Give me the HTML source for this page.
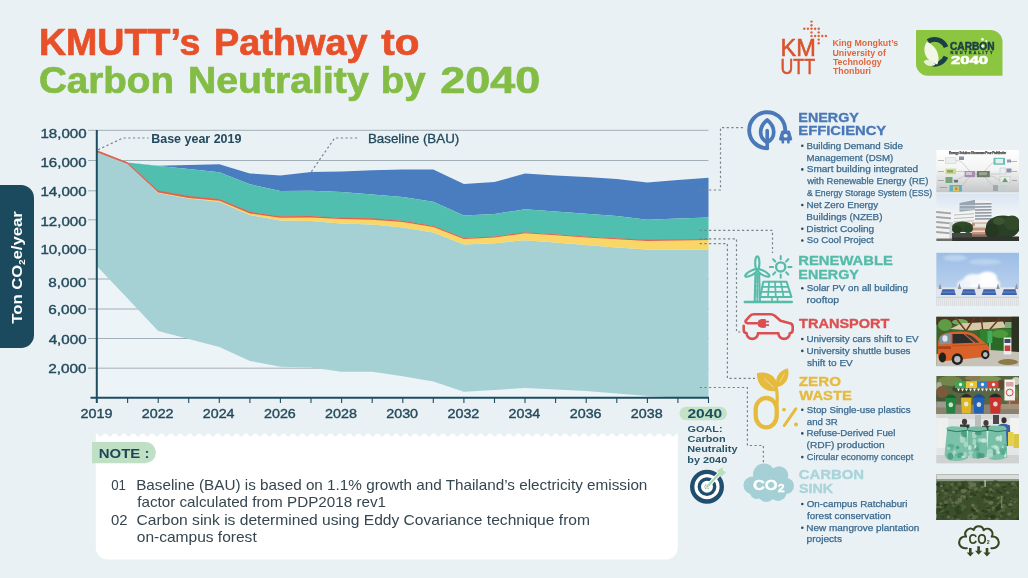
<!DOCTYPE html>
<html lang="en"><head><meta charset="utf-8"><title>KMUTT’s Pathway to Carbon Neutrality by 2040</title>
<style>
html,body{margin:0;padding:0;background:#e9f1f5;}
body{width:1028px;height:578px;overflow:hidden;font-family:"Liberation Sans",Arial,sans-serif;}
svg{display:block;}
svg text{font-family:"Liberation Sans",Arial,sans-serif;}
</style></head><body>
<svg width="1028" height="578" viewBox="0 0 1028 578">
<rect width="1028" height="578" fill="#e9f1f5"/>
<text x="38.92" y="54.8" font-size="36.3" font-weight="bold" fill="#e8502a" textLength="161.48" lengthAdjust="spacingAndGlyphs" stroke="#e8502a" stroke-width="0.7">KMUTT’s</text>
<text x="214.10" y="54.8" font-size="36.3" font-weight="bold" fill="#e8502a" textLength="153.39" lengthAdjust="spacingAndGlyphs" stroke="#e8502a" stroke-width="0.7">Pathway</text>
<text x="381.21" y="54.8" font-size="36.3" font-weight="bold" fill="#e8502a" textLength="38.16" lengthAdjust="spacingAndGlyphs" stroke="#e8502a" stroke-width="0.7">to</text>
<text x="39.02" y="92.8" font-size="36.3" font-weight="bold" fill="#84bd45" textLength="134.97" lengthAdjust="spacingAndGlyphs" stroke="#84bd45" stroke-width="0.7">Carbon</text>
<text x="188.01" y="92.8" font-size="36.3" font-weight="bold" fill="#84bd45" textLength="180.69" lengthAdjust="spacingAndGlyphs" stroke="#84bd45" stroke-width="0.7">Neutrality</text>
<text x="380.70" y="92.8" font-size="36.3" font-weight="bold" fill="#84bd45" textLength="44.89" lengthAdjust="spacingAndGlyphs" stroke="#84bd45" stroke-width="0.7">by</text>
<text x="440.37" y="92.8" font-size="36.3" font-weight="bold" fill="#84bd45" textLength="99.95" lengthAdjust="spacingAndGlyphs" stroke="#84bd45" stroke-width="0.7">2040</text>
<line x1="88" y1="130.3" x2="708.5" y2="130.3" stroke="#8f9ea6" stroke-width="0.8"/>
<line x1="88" y1="160.5" x2="708.5" y2="160.5" stroke="#8f9ea6" stroke-width="0.8"/>
<line x1="88" y1="190.8" x2="708.5" y2="190.8" stroke="#8f9ea6" stroke-width="0.8"/>
<line x1="88" y1="219.8" x2="708.5" y2="219.8" stroke="#8f9ea6" stroke-width="0.8"/>
<line x1="88" y1="249.6" x2="708.5" y2="249.6" stroke="#8f9ea6" stroke-width="0.8"/>
<line x1="88" y1="279" x2="708.5" y2="279" stroke="#8f9ea6" stroke-width="0.8"/>
<line x1="88" y1="309" x2="708.5" y2="309" stroke="#8f9ea6" stroke-width="0.8"/>
<line x1="88" y1="338.5" x2="708.5" y2="338.5" stroke="#8f9ea6" stroke-width="0.8"/>
<line x1="88" y1="368.2" x2="708.5" y2="368.2" stroke="#8f9ea6" stroke-width="0.8"/>
<polygon fill="#edf4f7" points="97.0,150.5 127.6,162.5 158.2,165.7 188.7,165.0 219.3,164.2 249.9,173.4 280.4,175.4 311.0,172.0 341.6,171.5 372.2,170.3 402.8,169.5 433.3,169.5 463.9,184.0 494.5,182.0 525.0,173.6 555.6,175.5 586.2,177.0 616.8,179.0 647.4,182.6 677.9,180.0 708.5,177.7 708.5,397.8 677.9,397.8 647.4,397.8 616.8,397.8 586.2,397.8 555.6,397.8 525.0,397.8 494.5,397.8 463.9,397.8 433.3,397.8 402.8,397.8 372.2,397.8 341.6,397.8 311.0,397.8 280.4,397.8 249.9,397.8 219.3,397.8 188.7,397.8 158.2,397.8 127.6,397.8 97.0,397.8"/>
<line x1="88" y1="279" x2="708.5" y2="279" stroke="#8f9ea6" stroke-width="0.8"/>
<line x1="88" y1="309" x2="708.5" y2="309" stroke="#8f9ea6" stroke-width="0.8"/>
<line x1="88" y1="338.5" x2="708.5" y2="338.5" stroke="#8f9ea6" stroke-width="0.8"/>
<line x1="88" y1="368.2" x2="708.5" y2="368.2" stroke="#8f9ea6" stroke-width="0.8"/>
<polygon fill="#4a7cc0" points="97.0,150.5 127.6,162.5 158.2,165.7 188.7,165.0 219.3,164.2 249.9,173.4 280.4,175.4 311.0,172.0 341.6,171.5 372.2,170.3 402.8,169.5 433.3,169.5 463.9,184.0 494.5,182.0 525.0,173.6 555.6,175.5 586.2,177.0 616.8,179.0 647.4,182.6 677.9,180.0 708.5,177.7 708.5,217.4 677.9,218.6 647.4,219.8 616.8,216.0 586.2,213.8 555.6,211.5 525.0,209.3 494.5,214.0 463.9,215.5 433.3,201.7 402.8,197.0 372.2,194.5 341.6,192.0 311.0,190.8 280.4,190.9 249.9,184.3 219.3,172.2 188.7,169.0 158.2,166.0 127.6,162.5 97.0,150.5"/>
<polygon fill="#50bfb0" points="97.0,150.5 127.6,162.5 158.2,166.0 188.7,169.0 219.3,172.2 249.9,184.3 280.4,190.9 311.0,190.8 341.6,192.0 372.2,194.5 402.8,197.0 433.3,201.7 463.9,215.5 494.5,214.0 525.0,209.3 555.6,211.5 586.2,213.8 616.8,216.0 647.4,219.8 677.9,218.6 708.5,217.4 708.5,239.3 677.9,239.7 647.4,240.2 616.8,238.5 586.2,236.8 555.6,234.6 525.0,232.5 494.5,236.8 463.9,238.0 433.3,226.0 402.8,221.0 372.2,218.7 341.6,218.0 311.0,216.3 280.4,216.5 249.9,212.2 219.3,199.3 188.7,196.4 158.2,190.9 127.6,162.5 97.0,150.5"/>
<polygon fill="#a6d1d4" points="97.0,150.5 127.6,162.5 158.2,193.0 188.7,198.5 219.3,201.8 249.9,215.0 280.4,220.6 311.0,221.0 341.6,223.5 372.2,224.5 402.8,227.6 433.3,232.5 463.9,244.6 494.5,243.2 525.0,240.2 555.6,242.6 586.2,245.0 616.8,247.5 647.4,249.5 677.9,249.5 708.5,249.5 708.5,397.5 677.9,397.5 647.4,396.0 616.8,393.5 586.2,391.0 555.6,389.5 525.0,388.0 494.5,390.0 463.9,391.8 433.3,381.5 402.8,376.2 372.2,371.8 341.6,371.8 311.0,367.5 280.4,366.8 249.9,360.9 219.3,347.0 188.7,339.0 158.2,330.9 127.6,298.5 97.0,266.2"/>
<polygon fill="#f8d768" points="97.0,150.8 127.6,162.8 158.2,191.2 188.7,196.7 219.3,199.6 249.9,212.5 280.4,216.8 311.0,216.6 341.6,218.3 372.2,219.0 402.8,221.3 433.3,226.3 463.9,238.3 494.5,237.1 525.0,232.8 555.6,234.9 586.2,237.1 616.8,238.8 647.4,240.5 677.9,240.0 708.5,239.6 708.5,249.5 677.9,249.5 647.4,249.5 616.8,247.5 586.2,245.0 555.6,242.6 525.0,240.2 494.5,243.2 463.9,244.6 433.3,232.5 402.8,227.6 372.2,224.5 341.6,223.5 311.0,221.0 280.4,220.6 249.9,215.0 219.3,201.8 188.7,198.5 158.2,193.0 127.6,162.5 97.0,150.5"/>
<polygon fill="#df624f" points="97.0,150.2 127.6,162.2 158.2,190.6 188.7,196.1 219.3,199.0 249.9,211.8 280.4,216.2 311.0,216.0 341.6,217.7 372.2,218.3 402.8,220.7 433.3,225.7 463.9,237.7 494.5,236.5 525.0,232.2 555.6,234.2 586.2,236.5 616.8,238.2 647.4,239.8 677.9,239.3 708.5,239.0 708.5,240.1 677.9,240.4 647.4,240.9 616.8,239.2 586.2,237.6 555.6,235.3 525.0,233.2 494.5,237.6 463.9,238.9 433.3,226.9 402.8,222.0 372.2,219.8 341.6,219.1 311.0,217.5 280.4,217.8 249.9,213.5 219.3,200.7 188.7,197.9 158.2,192.4 127.6,164.1 97.0,152.2"/>
<line x1="96.8" y1="130" x2="96.8" y2="403" stroke="#1d4d60" stroke-width="2"/>
<line x1="90.5" y1="397.8" x2="709" y2="397.8" stroke="#1d4d60" stroke-width="2"/>
<line x1="127.6" y1="397.8" x2="127.6" y2="403" stroke="#1d4d60" stroke-width="1.1"/>
<line x1="158.2" y1="397.8" x2="158.2" y2="403" stroke="#1d4d60" stroke-width="1.1"/>
<line x1="188.7" y1="397.8" x2="188.7" y2="403" stroke="#1d4d60" stroke-width="1.1"/>
<line x1="219.3" y1="397.8" x2="219.3" y2="403" stroke="#1d4d60" stroke-width="1.1"/>
<line x1="249.9" y1="397.8" x2="249.9" y2="403" stroke="#1d4d60" stroke-width="1.1"/>
<line x1="280.4" y1="397.8" x2="280.4" y2="403" stroke="#1d4d60" stroke-width="1.1"/>
<line x1="311.0" y1="397.8" x2="311.0" y2="403" stroke="#1d4d60" stroke-width="1.1"/>
<line x1="341.6" y1="397.8" x2="341.6" y2="403" stroke="#1d4d60" stroke-width="1.1"/>
<line x1="372.2" y1="397.8" x2="372.2" y2="403" stroke="#1d4d60" stroke-width="1.1"/>
<line x1="402.8" y1="397.8" x2="402.8" y2="403" stroke="#1d4d60" stroke-width="1.1"/>
<line x1="433.3" y1="397.8" x2="433.3" y2="403" stroke="#1d4d60" stroke-width="1.1"/>
<line x1="463.9" y1="397.8" x2="463.9" y2="403" stroke="#1d4d60" stroke-width="1.1"/>
<line x1="494.5" y1="397.8" x2="494.5" y2="403" stroke="#1d4d60" stroke-width="1.1"/>
<line x1="525.0" y1="397.8" x2="525.0" y2="403" stroke="#1d4d60" stroke-width="1.1"/>
<line x1="555.6" y1="397.8" x2="555.6" y2="403" stroke="#1d4d60" stroke-width="1.1"/>
<line x1="586.2" y1="397.8" x2="586.2" y2="403" stroke="#1d4d60" stroke-width="1.1"/>
<line x1="616.8" y1="397.8" x2="616.8" y2="403" stroke="#1d4d60" stroke-width="1.1"/>
<line x1="647.4" y1="397.8" x2="647.4" y2="403" stroke="#1d4d60" stroke-width="1.1"/>
<line x1="677.9" y1="397.8" x2="677.9" y2="403" stroke="#1d4d60" stroke-width="1.1"/>
<line x1="708.5" y1="397.8" x2="708.5" y2="403" stroke="#1d4d60" stroke-width="1.1"/>
<text x="40.45" y="138.1" font-size="12" font-weight="normal" fill="#234a5c" textLength="46.13" lengthAdjust="spacingAndGlyphs" stroke="#234a5c" stroke-width="0.35">18,000</text>
<text x="40.45" y="166.6" font-size="12" font-weight="normal" fill="#234a5c" textLength="46.13" lengthAdjust="spacingAndGlyphs" stroke="#234a5c" stroke-width="0.35">16,000</text>
<text x="40.45" y="195.6" font-size="12" font-weight="normal" fill="#234a5c" textLength="46.13" lengthAdjust="spacingAndGlyphs" stroke="#234a5c" stroke-width="0.35">14,000</text>
<text x="40.45" y="225.6" font-size="12" font-weight="normal" fill="#234a5c" textLength="46.13" lengthAdjust="spacingAndGlyphs" stroke="#234a5c" stroke-width="0.35">12,000</text>
<text x="40.45" y="253.9" font-size="12" font-weight="normal" fill="#234a5c" textLength="46.13" lengthAdjust="spacingAndGlyphs" stroke="#234a5c" stroke-width="0.35">10,000</text>
<text x="48.34" y="286.8" font-size="12" font-weight="normal" fill="#234a5c" textLength="38.24" lengthAdjust="spacingAndGlyphs" stroke="#234a5c" stroke-width="0.35">8,000</text>
<text x="48.23" y="314.3" font-size="12" font-weight="normal" fill="#234a5c" textLength="38.36" lengthAdjust="spacingAndGlyphs" stroke="#234a5c" stroke-width="0.35">6,000</text>
<text x="48.67" y="343.6" font-size="12" font-weight="normal" fill="#234a5c" textLength="37.92" lengthAdjust="spacingAndGlyphs" stroke="#234a5c" stroke-width="0.35">4,000</text>
<text x="48.23" y="372.6" font-size="12" font-weight="normal" fill="#234a5c" textLength="38.36" lengthAdjust="spacingAndGlyphs" stroke="#234a5c" stroke-width="0.35">2,000</text>
<text x="80.53" y="417.8" font-size="12" font-weight="normal" fill="#234a5c" textLength="31.90" lengthAdjust="spacingAndGlyphs" stroke="#234a5c" stroke-width="0.35">2019</text>
<text x="141.68" y="417.8" font-size="12" font-weight="normal" fill="#234a5c" textLength="31.94" lengthAdjust="spacingAndGlyphs" stroke="#234a5c" stroke-width="0.35">2022</text>
<text x="202.84" y="417.8" font-size="12" font-weight="normal" fill="#234a5c" textLength="31.63" lengthAdjust="spacingAndGlyphs" stroke="#234a5c" stroke-width="0.35">2024</text>
<text x="263.98" y="417.8" font-size="12" font-weight="normal" fill="#234a5c" textLength="31.84" lengthAdjust="spacingAndGlyphs" stroke="#234a5c" stroke-width="0.35">2026</text>
<text x="325.13" y="417.8" font-size="12" font-weight="normal" fill="#234a5c" textLength="31.84" lengthAdjust="spacingAndGlyphs" stroke="#234a5c" stroke-width="0.35">2028</text>
<text x="386.29" y="417.8" font-size="12" font-weight="normal" fill="#234a5c" textLength="31.77" lengthAdjust="spacingAndGlyphs" stroke="#234a5c" stroke-width="0.35">2030</text>
<text x="447.43" y="417.8" font-size="12" font-weight="normal" fill="#234a5c" textLength="31.94" lengthAdjust="spacingAndGlyphs" stroke="#234a5c" stroke-width="0.35">2032</text>
<text x="508.59" y="417.8" font-size="12" font-weight="normal" fill="#234a5c" textLength="31.63" lengthAdjust="spacingAndGlyphs" stroke="#234a5c" stroke-width="0.35">2034</text>
<text x="569.73" y="417.8" font-size="12" font-weight="normal" fill="#234a5c" textLength="31.84" lengthAdjust="spacingAndGlyphs" stroke="#234a5c" stroke-width="0.35">2036</text>
<text x="630.88" y="417.8" font-size="12" font-weight="normal" fill="#234a5c" textLength="31.84" lengthAdjust="spacingAndGlyphs" stroke="#234a5c" stroke-width="0.35">2038</text>
<rect x="679.5" y="406.8" width="47.5" height="13.4" rx="6.7" fill="#c4e3c6"/>
<text x="687.42" y="417.8" font-size="12.5" font-weight="bold" fill="#1d4d60" textLength="34.66" lengthAdjust="spacingAndGlyphs" >2040</text>
<text x="151.18" y="143.4" font-size="12.6" font-weight="bold" fill="#234a5c" textLength="90.28" lengthAdjust="spacingAndGlyphs" >Base year 2019</text>
<text x="367.90" y="143.4" font-size="12.6" font-weight="normal" fill="#234a5c" textLength="91.43" lengthAdjust="spacingAndGlyphs" stroke="#234a5c" stroke-width="0.3">Baseline (BAU)</text>
<polyline fill="none" stroke="#76838a" stroke-width="1.2" stroke-dasharray="2.2 2.5" points="98,149.8 123,138 148.5,138"/>
<polyline fill="none" stroke="#76838a" stroke-width="1.2" stroke-dasharray="2.2 2.5" points="311.4,171.6 334.7,138 359.6,138"/>
<polyline fill="none" stroke="#76838a" stroke-width="1.2" stroke-dasharray="2.2 2.5" points="699.7,190 720.5,190 720.5,127.7 743,127.7"/>
<polyline fill="none" stroke="#76838a" stroke-width="1.2" stroke-dasharray="2.2 2.5" points="699.7,230.4 772.5,230.4 772.5,253"/>
<polyline fill="none" stroke="#76838a" stroke-width="1.2" stroke-dasharray="2.2 2.5" points="699.7,238.8 736.5,238.8 736.5,332 742,332"/>
<polyline fill="none" stroke="#76838a" stroke-width="1.2" stroke-dasharray="2.2 2.5" points="699.7,243.6 727.4,243.6 727.4,378.3 755,378.3"/>
<polyline fill="none" stroke="#76838a" stroke-width="1.2" stroke-dasharray="2.2 2.5" points="699.7,387.5 747.4,387.5 747.4,445.5 763.4,445.5 763.4,463.5"/>
<path d="M0,185 H21 a13,13 0 0 1 13,13 V335 a13,13 0 0 1 -13,13 H0 Z" fill="#1b4a5e"/>
<g transform="translate(22.4,267.5) rotate(-90)">
<text x="0" y="0" font-size="15" font-weight="bold" fill="#fff" text-anchor="middle" textLength="112.5" lengthAdjust="spacingAndGlyphs">Ton CO<tspan font-size="8.5" dy="3">2</tspan><tspan dy="-3">e/year</tspan></text>
</g>
<path d="M95.8,433.8 h2.094 a2.6,2.7 0 0 0 5.2,0 h2.094 h2.094 a2.6,2.7 0 0 0 5.2,0 h2.094 h2.094 a2.6,2.7 0 0 0 5.2,0 h2.094 h2.094 a2.6,2.7 0 0 0 5.2,0 h2.094 h2.094 a2.6,2.7 0 0 0 5.2,0 h2.094 h2.094 a2.6,2.7 0 0 0 5.2,0 h2.094 h2.094 a2.6,2.7 0 0 0 5.2,0 h2.094 h2.094 a2.6,2.7 0 0 0 5.2,0 h2.094 h2.094 a2.6,2.7 0 0 0 5.2,0 h2.094 h2.094 a2.6,2.7 0 0 0 5.2,0 h2.094 h2.094 a2.6,2.7 0 0 0 5.2,0 h2.094 h2.094 a2.6,2.7 0 0 0 5.2,0 h2.094 h2.094 a2.6,2.7 0 0 0 5.2,0 h2.094 h2.094 a2.6,2.7 0 0 0 5.2,0 h2.094 h2.094 a2.6,2.7 0 0 0 5.2,0 h2.094 h2.094 a2.6,2.7 0 0 0 5.2,0 h2.094 h2.094 a2.6,2.7 0 0 0 5.2,0 h2.094 h2.094 a2.6,2.7 0 0 0 5.2,0 h2.094 h2.094 a2.6,2.7 0 0 0 5.2,0 h2.094 h2.094 a2.6,2.7 0 0 0 5.2,0 h2.094 h2.094 a2.6,2.7 0 0 0 5.2,0 h2.094 h2.094 a2.6,2.7 0 0 0 5.2,0 h2.094 h2.094 a2.6,2.7 0 0 0 5.2,0 h2.094 h2.094 a2.6,2.7 0 0 0 5.2,0 h2.094 h2.094 a2.6,2.7 0 0 0 5.2,0 h2.094 h2.094 a2.6,2.7 0 0 0 5.2,0 h2.094 h2.094 a2.6,2.7 0 0 0 5.2,0 h2.094 h2.094 a2.6,2.7 0 0 0 5.2,0 h2.094 h2.094 a2.6,2.7 0 0 0 5.2,0 h2.094 h2.094 a2.6,2.7 0 0 0 5.2,0 h2.094 h2.094 a2.6,2.7 0 0 0 5.2,0 h2.094 h2.094 a2.6,2.7 0 0 0 5.2,0 h2.094 h2.094 a2.6,2.7 0 0 0 5.2,0 h2.094 h2.094 a2.6,2.7 0 0 0 5.2,0 h2.094 h2.094 a2.6,2.7 0 0 0 5.2,0 h2.094 h2.094 a2.6,2.7 0 0 0 5.2,0 h2.094 h2.094 a2.6,2.7 0 0 0 5.2,0 h2.094 h2.094 a2.6,2.7 0 0 0 5.2,0 h2.094 h2.094 a2.6,2.7 0 0 0 5.2,0 h2.094 h2.094 a2.6,2.7 0 0 0 5.2,0 h2.094 h2.094 a2.6,2.7 0 0 0 5.2,0 h2.094 h2.094 a2.6,2.7 0 0 0 5.2,0 h2.094 h2.094 a2.6,2.7 0 0 0 5.2,0 h2.094 h2.094 a2.6,2.7 0 0 0 5.2,0 h2.094 h2.094 a2.6,2.7 0 0 0 5.2,0 h2.094 h2.094 a2.6,2.7 0 0 0 5.2,0 h2.094 h2.094 a2.6,2.7 0 0 0 5.2,0 h2.094 h2.094 a2.6,2.7 0 0 0 5.2,0 h2.094 h2.094 a2.6,2.7 0 0 0 5.2,0 h2.094 h2.094 a2.6,2.7 0 0 0 5.2,0 h2.094 h2.094 a2.6,2.7 0 0 0 5.2,0 h2.094 h2.094 a2.6,2.7 0 0 0 5.2,0 h2.094 h2.094 a2.6,2.7 0 0 0 5.2,0 h2.094 h2.094 a2.6,2.7 0 0 0 5.2,0 h2.094 h2.094 a2.6,2.7 0 0 0 5.2,0 h2.094 h2.094 a2.6,2.7 0 0 0 5.2,0 h2.094 h2.094 a2.6,2.7 0 0 0 5.2,0 h2.094 h2.094 a2.6,2.7 0 0 0 5.2,0 h2.094 h2.094 a2.6,2.7 0 0 0 5.2,0 h2.094 h2.094 a2.6,2.7 0 0 0 5.2,0 h2.094 h2.094 a2.6,2.7 0 0 0 5.2,0 h2.094 h2.094 a2.6,2.7 0 0 0 5.2,0 h2.094  V547.5 a12,12 0 0 1 -12,12 H107.8 a12,12 0 0 1 -12,-12 Z" fill="#ffffff"/>
<path d="M92,442 H145.3 a10.6,10.6 0 0 1 0,21.2 H92 Z" fill="#bfe0c4"/>
<text x="98.81" y="457.8" font-size="13.2" font-weight="bold" fill="#1d4557" textLength="50.62" lengthAdjust="spacingAndGlyphs" >NOTE :</text>
<text x="111.18" y="489.6" font-size="14.2" font-weight="normal" fill="#36464f" textLength="14.76" lengthAdjust="spacingAndGlyphs" >01</text>
<text x="136.15" y="489.6" font-size="14.2" font-weight="normal" fill="#36464f" textLength="511.23" lengthAdjust="spacingAndGlyphs" >Baseline (BAU) is based on 1.1% growth and Thailand’s electricity emission</text>
<text x="137.19" y="507.2" font-size="14.2" font-weight="normal" fill="#36464f" textLength="248.85" lengthAdjust="spacingAndGlyphs" >factor calculated from PDP2018 rev1</text>
<text x="111.12" y="524.8" font-size="14.2" font-weight="normal" fill="#36464f" textLength="16.53" lengthAdjust="spacingAndGlyphs" >02</text>
<text x="136.62" y="524.8" font-size="14.2" font-weight="normal" fill="#36464f" textLength="453.39" lengthAdjust="spacingAndGlyphs" >Carbon sink is determined using Eddy Covariance technique from</text>
<text x="136.75" y="542.4" font-size="14.2" font-weight="normal" fill="#36464f" textLength="119.95" lengthAdjust="spacingAndGlyphs" >on-campus forest</text>
<text x="687.55" y="431.5" font-size="9.8" font-weight="bold" fill="#2a5568" textLength="35.05" lengthAdjust="spacingAndGlyphs" >GOAL:</text>
<text x="687.55" y="441.9" font-size="9.8" font-weight="bold" fill="#2a5568" textLength="38.07" lengthAdjust="spacingAndGlyphs" >Carbon</text>
<text x="687.28" y="452.3" font-size="9.8" font-weight="bold" fill="#2a5568" textLength="50.17" lengthAdjust="spacingAndGlyphs" >Neutrality</text>
<text x="687.29" y="462.7" font-size="9.8" font-weight="bold" fill="#2a5568" textLength="39.92" lengthAdjust="spacingAndGlyphs" >by 2040</text>
<circle cx="707" cy="486.7" r="14.8" fill="#fff" stroke="#1f4e6e" stroke-width="4.4"/>
<circle cx="707" cy="486.7" r="7.7" fill="#fff" stroke="#1f4e6e" stroke-width="3.4"/>
<circle cx="707" cy="486.7" r="2.4" fill="#1f4e6e"/>
<line x1="707" y1="486.7" x2="722" y2="471" stroke="#fff" stroke-width="4.2" stroke-linecap="round"/>
<line x1="707" y1="486.7" x2="721" y2="472" stroke="#a9d8b0" stroke-width="2.2" stroke-linecap="round"/>
<path d="M717.5,470 l5,-2.5 l1,3.5 l3,1 l-4.5,4 l-3,-0.5 Z" fill="#b9e0bd"/>
<!--RIGHT-->
<text x="780.5" y="56.3" font-size="23.5" fill="#d9532c" textLength="35.3" lengthAdjust="spacingAndGlyphs" font-weight="normal" stroke="#d9532c" stroke-width="0.55">KM</text>
<text x="780.5" y="73.7" font-size="22.5" fill="#d9532c" textLength="34.5" lengthAdjust="spacingAndGlyphs" font-weight="normal" stroke="#d9532c" stroke-width="0.55">UTT</text>
<circle cx="804.3" cy="28.8" r="1.2" fill="#e0633a"/>
<circle cx="807.9" cy="28.8" r="1.2" fill="#e0633a"/>
<circle cx="811.5" cy="21.6" r="1.2" fill="#e0633a"/>
<circle cx="811.5" cy="25.2" r="1.2" fill="#e0633a"/>
<circle cx="811.5" cy="28.8" r="1.2" fill="#e0633a"/>
<circle cx="811.5" cy="32.4" r="1.2" fill="#e0633a"/>
<circle cx="811.5" cy="36.0" r="1.2" fill="#e0633a"/>
<circle cx="815.1" cy="28.8" r="1.2" fill="#e0633a"/>
<circle cx="815.1" cy="36.0" r="1.2" fill="#e0633a"/>
<circle cx="818.7" cy="28.8" r="1.2" fill="#e0633a"/>
<circle cx="818.7" cy="32.4" r="1.2" fill="#e0633a"/>
<circle cx="818.7" cy="36.0" r="1.2" fill="#e0633a"/>
<circle cx="818.7" cy="39.6" r="1.2" fill="#e0633a"/>
<circle cx="818.7" cy="43.2" r="1.2" fill="#e0633a"/>
<circle cx="822.3" cy="36.0" r="1.2" fill="#e0633a"/>
<circle cx="825.9" cy="36.0" r="1.2" fill="#e0633a"/>
<text x="832.42" y="46.3" font-size="8.9" font-weight="bold" fill="#e0673d" textLength="65.75" lengthAdjust="spacingAndGlyphs" >King Mongkut’s</text>
<text x="832.47" y="55.6" font-size="8.9" font-weight="bold" fill="#e0673d" textLength="53.37" lengthAdjust="spacingAndGlyphs" >University of</text>
<text x="832.90" y="64.9" font-size="8.9" font-weight="bold" fill="#e0673d" textLength="48.79" lengthAdjust="spacingAndGlyphs" >Technology</text>
<text x="832.90" y="74.2" font-size="8.9" font-weight="bold" fill="#e0673d" textLength="38.17" lengthAdjust="spacingAndGlyphs" >Thonburi</text>
<path d="M917,30 H990.5 a12,12 0 0 1 12,12 V75.7 H928 a12,12 0 0 1 -12,-12 V31 a1,1 0 0 1 1,-1 Z" fill="#8cc540"/>
<path d="M928.03,41.28 A12.4,12.4 0 0 1 946.10,47.15" fill="none" stroke="#1b3f45" stroke-width="4.8"/>
<path d="M945.93,56.84 A12.4,12.4 0 0 1 930.77,63.59" fill="none" stroke="#1b3f45" stroke-width="4.8"/>
<path d="M926.8,41.8 C921.5,50 925,61 937.4,64.6 C941,56 936,45.5 926.8,41.8 Z" fill="#f1f6e6"/>
<path d="M923.6,61.5 C927,58.6 932,59.5 935.5,64.7 C931,67.2 926,66.3 923.6,61.5 Z" fill="#e6f0d2"/>
<text x="950" y="49.8" font-size="10.2" font-weight="bold" fill="#1b3f45" stroke="#1b3f45" stroke-width="0.5" textLength="44.5" lengthAdjust="spacingAndGlyphs">CARBON</text>
<text x="950.5" y="53.7" font-size="3.9" font-weight="bold" fill="#1b3f45" stroke="#1b3f45" stroke-width="0.3" textLength="42" lengthAdjust="spacing">NEUTRALITY</text>
<text x="951" y="64.1" font-size="11.2" font-weight="bold" fill="#ffffff" stroke="#ffffff" stroke-width="0.6" textLength="37" lengthAdjust="spacingAndGlyphs">2040</text>
<circle cx="982.4" cy="39.3" r="1.5" fill="#e9f5d8"/><circle cx="986.3" cy="40.9" r="1" fill="#e9f5d8"/><circle cx="982.6" cy="46.1" r="1.3" fill="#fff"/>
<text x="798.35" y="121.5" font-size="13.5" font-weight="bold" fill="#4a78b6" textLength="60.58" lengthAdjust="spacingAndGlyphs" stroke="#4a78b6" stroke-width="0.35">ENERGY</text>
<text x="798.32" y="135.4" font-size="13.5" font-weight="bold" fill="#4a78b6" textLength="87.91" lengthAdjust="spacingAndGlyphs" stroke="#4a78b6" stroke-width="0.35">EFFICIENCY</text>
<circle cx="802.3" cy="145.7" r="1.3" fill="#2d4a5e"/>
<text x="806.40" y="148.6" font-size="8.9" font-weight="normal" fill="#3b6a8f" textLength="96.53" lengthAdjust="spacingAndGlyphs" stroke="#3b6a8f" stroke-width="0.25">Building Demand Side</text>
<text x="806.41" y="160.5" font-size="8.9" font-weight="normal" fill="#3b6a8f" textLength="86.89" lengthAdjust="spacingAndGlyphs" stroke="#3b6a8f" stroke-width="0.25">Management (DSM)</text>
<circle cx="802.3" cy="169.4" r="1.3" fill="#2d4a5e"/>
<text x="806.75" y="172.3" font-size="8.9" font-weight="normal" fill="#3b6a8f" textLength="111.29" lengthAdjust="spacingAndGlyphs" stroke="#3b6a8f" stroke-width="0.25">Smart building integrated</text>
<text x="807.22" y="184.2" font-size="8.9" font-weight="normal" fill="#3b6a8f" textLength="121.07" lengthAdjust="spacingAndGlyphs" stroke="#3b6a8f" stroke-width="0.25">with Renewable Energy (RE)</text>
<text x="806.90" y="196.0" font-size="8.9" font-weight="normal" fill="#3b6a8f" textLength="125.24" lengthAdjust="spacingAndGlyphs" stroke="#3b6a8f" stroke-width="0.25">&amp; Energy Storage System (ESS)</text>
<circle cx="802.3" cy="205.0" r="1.3" fill="#2d4a5e"/>
<text x="806.40" y="207.9" font-size="8.9" font-weight="normal" fill="#3b6a8f" textLength="71.83" lengthAdjust="spacingAndGlyphs" stroke="#3b6a8f" stroke-width="0.25">Net Zero Energy</text>
<text x="806.39" y="219.7" font-size="8.9" font-weight="normal" fill="#3b6a8f" textLength="76.13" lengthAdjust="spacingAndGlyphs" stroke="#3b6a8f" stroke-width="0.25">Buildings (NZEB)</text>
<circle cx="802.3" cy="228.7" r="1.3" fill="#2d4a5e"/>
<text x="806.37" y="231.6" font-size="8.9" font-weight="normal" fill="#3b6a8f" textLength="67.88" lengthAdjust="spacingAndGlyphs" stroke="#3b6a8f" stroke-width="0.25">District Cooling</text>
<circle cx="802.3" cy="240.5" r="1.3" fill="#2d4a5e"/>
<text x="806.77" y="243.4" font-size="8.9" font-weight="normal" fill="#3b6a8f" textLength="66.90" lengthAdjust="spacingAndGlyphs" stroke="#3b6a8f" stroke-width="0.25">So Cool Project</text>
<text x="798.32" y="265.4" font-size="13.5" font-weight="bold" fill="#56bba8" textLength="94.56" lengthAdjust="spacingAndGlyphs" stroke="#56bba8" stroke-width="0.35">RENEWABLE</text>
<text x="798.35" y="279.3" font-size="13.5" font-weight="bold" fill="#56bba8" textLength="60.58" lengthAdjust="spacingAndGlyphs" stroke="#56bba8" stroke-width="0.35">ENERGY</text>
<circle cx="802.3" cy="288.2" r="1.3" fill="#2d4a5e"/>
<text x="806.76" y="291.1" font-size="8.9" font-weight="normal" fill="#3b6a8f" textLength="101.27" lengthAdjust="spacingAndGlyphs" stroke="#3b6a8f" stroke-width="0.25">Solar PV on all building</text>
<text x="806.51" y="303.0" font-size="8.9" font-weight="normal" fill="#3b6a8f" textLength="32.73" lengthAdjust="spacingAndGlyphs" stroke="#3b6a8f" stroke-width="0.25">rooftop</text>
<text x="799.14" y="328.3" font-size="13.5" font-weight="bold" fill="#db5050" textLength="90.31" lengthAdjust="spacingAndGlyphs" stroke="#db5050" stroke-width="0.35">TRANSPORT</text>
<circle cx="802.3" cy="339.0" r="1.3" fill="#2d4a5e"/>
<text x="806.44" y="341.9" font-size="8.9" font-weight="normal" fill="#3b6a8f" textLength="112.20" lengthAdjust="spacingAndGlyphs" stroke="#3b6a8f" stroke-width="0.25">University cars shift to EV</text>
<circle cx="802.3" cy="350.9" r="1.3" fill="#2d4a5e"/>
<text x="806.44" y="353.8" font-size="8.9" font-weight="normal" fill="#3b6a8f" textLength="104.12" lengthAdjust="spacingAndGlyphs" stroke="#3b6a8f" stroke-width="0.25">University shuttle buses</text>
<text x="806.93" y="365.6" font-size="8.9" font-weight="normal" fill="#3b6a8f" textLength="45.91" lengthAdjust="spacingAndGlyphs" stroke="#3b6a8f" stroke-width="0.25">shift to EV</text>
<text x="798.86" y="385.6" font-size="13.5" font-weight="bold" fill="#e6ba3e" textLength="42.07" lengthAdjust="spacingAndGlyphs" stroke="#e6ba3e" stroke-width="0.35">ZERO</text>
<text x="799.29" y="399.5" font-size="13.5" font-weight="bold" fill="#e6ba3e" textLength="52.59" lengthAdjust="spacingAndGlyphs" stroke="#e6ba3e" stroke-width="0.35">WASTE</text>
<circle cx="802.3" cy="409.7" r="1.3" fill="#2d4a5e"/>
<text x="806.76" y="412.6" font-size="8.9" font-weight="normal" fill="#3b6a8f" textLength="103.79" lengthAdjust="spacingAndGlyphs" stroke="#3b6a8f" stroke-width="0.25">Stop Single-use plastics</text>
<text x="806.80" y="424.5" font-size="8.9" font-weight="normal" fill="#3b6a8f" textLength="30.95" lengthAdjust="spacingAndGlyphs" stroke="#3b6a8f" stroke-width="0.25">and 3R</text>
<circle cx="802.3" cy="433.4" r="1.3" fill="#2d4a5e"/>
<text x="806.40" y="436.3" font-size="8.9" font-weight="normal" fill="#3b6a8f" textLength="88.94" lengthAdjust="spacingAndGlyphs" stroke="#3b6a8f" stroke-width="0.25">Refuse-Derived Fuel</text>
<text x="806.57" y="448.2" font-size="8.9" font-weight="normal" fill="#3b6a8f" textLength="78.08" lengthAdjust="spacingAndGlyphs" stroke="#3b6a8f" stroke-width="0.25">(RDF) production</text>
<circle cx="802.3" cy="457.1" r="1.3" fill="#2d4a5e"/>
<text x="806.74" y="460.0" font-size="8.9" font-weight="normal" fill="#3b6a8f" textLength="106.52" lengthAdjust="spacingAndGlyphs" stroke="#3b6a8f" stroke-width="0.25">Circular economy concept</text>
<text x="798.69" y="478.9" font-size="13.5" font-weight="bold" fill="#a9d4d9" textLength="65.30" lengthAdjust="spacingAndGlyphs" stroke="#a9d4d9" stroke-width="0.35">CARBON</text>
<text x="798.90" y="492.8" font-size="13.5" font-weight="bold" fill="#a9d4d9" textLength="34.23" lengthAdjust="spacingAndGlyphs" stroke="#a9d4d9" stroke-width="0.35">SINK</text>
<circle cx="802.3" cy="504.0" r="1.3" fill="#2d4a5e"/>
<text x="806.74" y="506.9" font-size="8.9" font-weight="normal" fill="#3b6a8f" textLength="100.82" lengthAdjust="spacingAndGlyphs" stroke="#3b6a8f" stroke-width="0.25">On-campus Ratchaburi</text>
<text x="807.06" y="518.8" font-size="8.9" font-weight="normal" fill="#3b6a8f" textLength="83.77" lengthAdjust="spacingAndGlyphs" stroke="#3b6a8f" stroke-width="0.25">forest conservation</text>
<circle cx="802.3" cy="527.7" r="1.3" fill="#2d4a5e"/>
<text x="806.38" y="530.6" font-size="8.9" font-weight="normal" fill="#3b6a8f" textLength="112.85" lengthAdjust="spacingAndGlyphs" stroke="#3b6a8f" stroke-width="0.25">New mangrove plantation</text>
<text x="806.55" y="542.4" font-size="8.9" font-weight="normal" fill="#3b6a8f" textLength="35.42" lengthAdjust="spacingAndGlyphs" stroke="#3b6a8f" stroke-width="0.25">projects</text>
<path d="M767.20,148.20 A18.0,18.0 0 1 1 785.02,127.69" fill="none" stroke="#4a78b8" stroke-width="3.9" stroke-linecap="round"/>
<path d="M767.2,120 C775.4000000000001,126.5 776.4000000000001,137.5 767.2,142.4 C758.0,137.5 759.0,126.5 767.2,120 Z" fill="none" stroke="#4a78b8" stroke-width="3.7" stroke-linejoin="round"/>
<line x1="767.2" y1="130.5" x2="767.2" y2="148.2" stroke="#4a78b8" stroke-width="3.6" stroke-linecap="round"/>
<path d="M781.8,131 H789.4 L791.6,138.5 V140 H779.6 V138.5 Z" fill="#4a78b8" stroke="#4a78b8" stroke-width="1" stroke-linejoin="round"/>
<rect x="781.5" y="139.5" width="2.6" height="4" rx="0.8" fill="#4a78b8"/><rect x="787.1" y="139.5" width="2.6" height="4" rx="0.8" fill="#4a78b8"/>
<rect x="783.6" y="134" width="4" height="3.6" rx="1.5" fill="#e9f1f5"/>
<line x1="785.2" y1="127.5" x2="785.2" y2="131" stroke="#4a78b8" stroke-width="3.8"/>
<g fill="none" stroke="#56bba8" stroke-width="2.1" stroke-linecap="round" stroke-linejoin="round">
<ellipse cx="757.3" cy="263.0" rx="2.1" ry="6.8"/>
<ellipse cx="757.3" cy="263.0" rx="2.1" ry="6.8" transform="rotate(118 757.3 269.8)"/>
<ellipse cx="757.3" cy="263.0" rx="2.1" ry="6.8" transform="rotate(-118 757.3 269.8)"/>
<path d="M755.5,272.5 L754.6999999999999,301.5 M759.0999999999999,272.5 L759.9,301.5"/>
<line x1="757.3" y1="274" x2="757.3" y2="301" stroke-dasharray="9 2 2 2"/>
<line x1="744.8" y1="302" x2="791.8" y2="302" stroke-width="2.4"/>
<circle cx="780.7" cy="266.9" r="4.6" stroke-width="2.3"/>
<line x1="788.3" y1="266.9" x2="791.5" y2="266.9" stroke-width="2"/>
<line x1="786.1" y1="272.3" x2="788.3" y2="274.5" stroke-width="2"/>
<line x1="780.7" y1="274.5" x2="780.7" y2="277.7" stroke-width="2"/>
<line x1="775.3" y1="272.3" x2="773.1" y2="274.5" stroke-width="2"/>
<line x1="773.1" y1="266.9" x2="769.9" y2="266.9" stroke-width="2"/>
<line x1="775.3" y1="261.5" x2="773.1" y2="259.3" stroke-width="2"/>
<line x1="780.7" y1="259.3" x2="780.7" y2="256.1" stroke-width="2"/>
<line x1="786.1" y1="261.5" x2="788.3" y2="259.3" stroke-width="2"/>
<path d="M763.3,281.7 H786.6 L791.4,296.9 H760.2 Z" stroke-width="2"/>
<line x1="769.1" y1="281.7" x2="768.0" y2="296.9" stroke-width="1.7"/>
<line x1="775.0" y1="281.7" x2="775.8" y2="296.9" stroke-width="1.7"/>
<line x1="780.8" y1="281.7" x2="783.6" y2="296.9" stroke-width="1.7"/>
<line x1="762.3" y1="286.8" x2="788.2" y2="286.8" stroke-width="1.7"/>
<line x1="761.2" y1="291.8" x2="789.8" y2="291.8" stroke-width="1.7"/>
<path d="M772,297 V301.5 M777.5,297 V301.5" stroke-width="1.5"/>
</g>
<g fill="none" stroke="#da5050" stroke-width="2.6" stroke-linecap="round" stroke-linejoin="round">
<path d="M743.7,325.8 V330 Q743.7,333 746.6,333.2 A5.7,5.7 0 0 0 758,333.2 H778.4 A5.7,5.7 0 0 0 789.8,333.2 Q792.7,333 792.7,330 V326.5 Q792.7,323.6 789,323 L780.5,320.8 L774.5,315.6 Q773,314.2 770.5,314.2 H754 Q751.5,314.2 750,315.8 L746,320.3 Q744.6,322.6 747.5,323.2 H757.5"/>
<path d="M765,319.5 H761.8 A3.9,3.9 0 0 0 761.8,327.3 H765 Z" fill="#da5050" stroke-width="1"/>
<path d="M765,321.6 H768.3 M765,325.2 H768.3" stroke-width="1.7"/>
</g>
<g fill="none" stroke="#e6ba3c" stroke-linecap="round" stroke-linejoin="round">
<rect x="755.7" y="398" width="21" height="29.3" rx="10.5" ry="11.5" stroke-width="4.3"/>
<path d="M776.9,407 C777.4,400 777.6,396 776.6,389.5" stroke-width="3.2"/>
</g>
<path d="M757,373 C768,370.5 779.5,377 777.6,391 C765,393 756.3,385 757,373 Z" fill="#e6ba3c"/>
<path d="M788,368.6 C790,377 786,386 777.2,387 C773.6,378.5 779.5,370 788,368.6 Z" fill="#e6ba3c"/>
<path d="M764.5,379 L773.5,387" stroke="#f4dc8e" stroke-width="1" fill="none" stroke-linecap="round"/>
<path d="M784.3,374 L780,381.5" stroke="#f4dc8e" stroke-width="0.9" fill="none" stroke-linecap="round"/>
<line x1="784.3" y1="425.5" x2="795.8" y2="408.8" stroke="#e6ba3c" stroke-width="3" stroke-linecap="round"/>
<circle cx="784" cy="409.6" r="1.9" fill="#e6ba3c"/><circle cx="796" cy="424.6" r="2" fill="#e6ba3c"/>
<g fill="#a4d0d5">
<circle cx="752.3" cy="485.2" r="8.8"/>
<circle cx="764" cy="474.5" r="11"/>
<circle cx="779" cy="475.5" r="9.3"/>
<circle cx="786" cy="486" r="8"/>
<circle cx="778" cy="492.5" r="8.5"/>
<circle cx="766.5" cy="493.5" r="8.5"/>
<circle cx="757" cy="491.5" r="7.5"/>
<circle cx="769" cy="484" r="11"/>
</g>
<text x="753" y="489.7" font-size="14" font-weight="bold" fill="#fff" stroke="#fff" stroke-width="0.3" textLength="31.5" lengthAdjust="spacingAndGlyphs">CO<tspan font-size="10.5" dy="2.6">2</tspan></text>
<g fill="none" stroke="#37471f" stroke-width="2.1" stroke-linecap="round" stroke-linejoin="round">
<path d="M966.8,548.3 H965.0 A5.9,5.9 0 0 1 959.10,542.40 A5.9,5.9 0 0 1 966.05,536.59 A5.2,5.2 0 0 1 973.80,529.88 A5.1,5.1 0 0 1 983.67,530.17 A5.2,5.2 0 0 1 991.73,536.62 A5.9,5.9 0 0 1 998.80,542.40 A5.9,5.9 0 0 1 992.9,548.3 H991.4"/>
</g>
<text x="968.6" y="543.9" font-size="13.8" font-weight="bold" fill="#37471f" textLength="21" lengthAdjust="spacingAndGlyphs">CO<tspan font-size="6" dy="0.4">2</tspan></text>
<path d="M969.0,548 h2.6 v4.6 h2.3 l-3.6,4 l-3.6,-4 h2.3 Z" fill="#37471f"/>
<path d="M977.3000000000001,546.2 h2.6 v4.6 h2.3 l-3.6,4 l-3.6,-4 h2.3 Z" fill="#37471f"/>
<path d="M985.7,548 h2.6 v4.6 h2.3 l-3.6,4 l-3.6,-4 h2.3 Z" fill="#37471f"/>
<!--PHOTOS-->
<defs>
<filter id="bl" x="-5%" y="-5%" width="110%" height="110%"><feGaussianBlur stdDeviation="0.55"/></filter>
<filter id="bl2" x="-5%" y="-5%" width="110%" height="110%"><feGaussianBlur stdDeviation="0.9"/></filter>
<linearGradient id="g1" x1="0" y1="0" x2="0" y2="1"><stop offset="0" stop-color="#ffffff"/><stop offset="0.45" stop-color="#f4f4f4"/><stop offset="1" stop-color="#c3c5c6"/></linearGradient>
<linearGradient id="g2" x1="0" y1="0" x2="0" y2="1"><stop offset="0" stop-color="#d9e5f1"/><stop offset="0.5" stop-color="#f1f5f9"/><stop offset="1" stop-color="#eceff1"/></linearGradient>
<linearGradient id="g3" x1="0" y1="0" x2="0" y2="1"><stop offset="0" stop-color="#9cbde6"/><stop offset="0.75" stop-color="#bcd3ee"/><stop offset="1" stop-color="#cfdff1"/></linearGradient>
<clipPath id="c0"><rect x="936.2" y="149.8" width="82.8" height="42.8"/></clipPath>
<clipPath id="c1"><rect x="936.2" y="193.4" width="82.8" height="47.6"/></clipPath>
<clipPath id="c2"><rect x="936.2" y="252.6" width="82.8" height="53.4"/></clipPath>
<clipPath id="c3"><rect x="936.2" y="316.6" width="82.8" height="49.6"/></clipPath>
<clipPath id="c4"><rect x="936.2" y="376" width="82.8" height="38.1"/></clipPath>
<clipPath id="c5"><rect x="936.2" y="414.1" width="82.8" height="49.5"/></clipPath>
<clipPath id="c6"><rect x="936.2" y="474.3" width="82.8" height="45.7"/></clipPath>
</defs>
<g clip-path="url(#c0)">
<rect x="936.2" y="149.8" width="82.8" height="42.8" fill="url(#g1)" />
<g filter="url(#bl)" opacity="0.72">
<text x="977.5" y="153.8" font-size="3.3" font-weight="bold" fill="#000" stroke="#000" stroke-width="0.25" text-anchor="middle" textLength="57" lengthAdjust="spacing">Energy Solution Showcase Four Pathfinder</text>
<g fill="none" stroke="#a9aeb0" stroke-width="0.7">
<path d="M956,160.5 C966,160 966,174 977,174 C988,174 988,161 999,161"/>
<path d="M956,187.5 C966,188 966,174 977,174 C988,174 988,187 999,187"/>
<path d="M956,171.5 H965 M953,180 C960,180 962,176 965,175.5 M990,174 H1000 M990,176 C996,176 996,180 1000,180"/>
</g>
<rect x="945.5" y="157.8" width="10.5" height="5.5" fill="#e6ebe9" stroke="#9aa" stroke-width="0.4"/>
<rect x="959.0" y="156.5" width="5.0" height="3.5" fill="#5b6b7a" />
<rect x="945.5" y="168.6" width="10.5" height="5.6" fill="#c9cf5a" />
<rect x="947.0" y="170.0" width="6.0" height="2.6" fill="#5f8f3a" />
<rect x="945.5" y="177.0" width="7.0" height="6.0" fill="#4f8f56" />
<rect x="954.0" y="180.0" width="4.0" height="2.5" fill="#3a4a5a" />
<rect x="949.5" y="185.0" width="12.5" height="6.5" fill="#3aa6b4" />
<rect x="953.0" y="186.5" width="6.0" height="4.5" fill="#e2c53a" />
<rect x="955.0" y="187.5" width="2.5" height="2.5" fill="#d9602a" />
<rect x="964.6" y="171.0" width="10.6" height="6.2" fill="#8d6e9c" />
<rect x="966.0" y="172.0" width="6.0" height="3.0" fill="#c9b7d2" />
<rect x="976.8" y="171.0" width="13.0" height="6.2" fill="#3f4f3a" />
<rect x="979.0" y="172.2" width="8.0" height="3.0" fill="#7b8a70" />
<rect x="993.5" y="157.8" width="11.5" height="7.0" fill="#3fa7a0" />
<rect x="995.5" y="159.0" width="7.5" height="4.3" fill="#d7efec" />
<rect x="1007.0" y="159.5" width="4.0" height="3.0" fill="#6b7c88" />
<rect x="1000.0" y="168.0" width="6.0" height="6.0" fill="#e9eef2" stroke="#99a" stroke-width="0.4"/>
<rect x="1006.5" y="168.5" width="5.0" height="4.0" fill="#5d6f95" />
<rect x="1000.0" y="176.3" width="10.0" height="6.5" fill="#eef3ee" stroke="#9a9" stroke-width="0.4"/>
<path d="M1005,177.5 l3,4.5 h-6 Z" fill="#3c8a4a"/>
<rect x="993.0" y="185.0" width="5.0" height="6.0" fill="#8c99a3" />
<rect x="1000.0" y="185.0" width="6.5" height="6.0" fill="#c4ccd2" />
<rect x="938.0" y="160.0" width="6.0" height="0.7" fill="#777" />
<rect x="938.0" y="171.0" width="6.0" height="0.7" fill="#777" />
<rect x="938.0" y="180.0" width="6.0" height="0.7" fill="#777" />
<rect x="1011.0" y="161.0" width="6.0" height="0.7" fill="#777" />
<rect x="1012.0" y="171.0" width="5.0" height="0.7" fill="#777" />
<rect x="1012.0" y="180.0" width="5.0" height="0.7" fill="#777" />
<rect x="940.0" y="187.0" width="7.0" height="0.7" fill="#777" />
</g></g>
<g clip-path="url(#c1)">
<rect x="936.2" y="193.4" width="82.8" height="47.6" fill="url(#g2)" />
<g filter="url(#bl)">
<path d="M960,203 L972,199.6 L991,201 L992.5,226 H960 Z" fill="#eef0f1"/>
<path d="M961,203.5 L991.5,203.0 V204.5 L961,204.9 Z" fill="#8d979f"/>
<path d="M961,206.5 L991.5,206.0 V207.5 L961,207.9 Z" fill="#8d979f"/>
<path d="M961,209.5 L991.5,209.0 V210.5 L961,210.9 Z" fill="#8d979f"/>
<path d="M961,212.5 L991.5,212.0 V213.5 L961,213.9 Z" fill="#8d979f"/>
<path d="M961,215.5 L991.5,215.0 V216.5 L961,216.9 Z" fill="#8d979f"/>
<path d="M961,218.5 L991.5,218.0 V219.5 L961,219.9 Z" fill="#8d979f"/>
<path d="M959.6,203 L975,199.8 V224 H959.6 Z" fill="#97a6b0"/>
<rect x="959.6" y="205.0" width="15.4" height="1.1" fill="#c9d2d8" />
<rect x="959.6" y="208.5" width="15.4" height="1.1" fill="#c9d2d8" />
<rect x="959.6" y="212.0" width="15.4" height="1.1" fill="#c9d2d8" />
<rect x="959.6" y="215.5" width="15.4" height="1.1" fill="#c9d2d8" />
<rect x="959.6" y="219.0" width="15.4" height="1.1" fill="#c9d2d8" />
<path d="M953,212.5 L975,210 V232 H953 Z" fill="#f3f3f2"/>
<path d="M954,214.5 L974,213.2 V214.3 L954,215.6 Z" fill="#b7bcbe"/>
<path d="M954,218 L974,216.7 V217.8 L954,219.1 Z" fill="#b7bcbe"/>
<path d="M954,221.5 L974,220.2 V221.3 L954,222.6 Z" fill="#b7bcbe"/>
<path d="M936,206.5 L951.5,210 V241 H936 Z" fill="#f1f1ef"/>
<path d="M936,211 L951,212.6 V214.2 L936,213 Z" fill="#9ea5a6"/>
<path d="M936,216 L951,217.6 V219.2 L936,218 Z" fill="#9ea5a6"/>
<path d="M936,221 L951,222.6 V224.2 L936,223 Z" fill="#9ea5a6"/>
<path d="M936,226 L951,227.6 V229.2 L936,228 Z" fill="#9ea5a6"/>
<path d="M936,231 L951,232.6 V234.2 L936,233 Z" fill="#9ea5a6"/>
<rect x="949.5" y="222.0" width="3.3" height="19.0" fill="#c9d2d4" />
<rect x="972.0" y="222.5" width="15.0" height="15.5" fill="#c39480" />
<rect x="972.0" y="226.0" width="15.0" height="1.6" fill="#ead9cf" />
<rect x="972.0" y="230.5" width="15.0" height="1.5" fill="#ead9cf" />
<rect x="972.0" y="234.5" width="15.0" height="1.2" fill="#7a5a4c" />
<rect x="975.0" y="223.5" width="14.0" height="3.0" fill="#e9e4dc" />
<ellipse cx="1003.0" cy="227.0" rx="17.0" ry="11.5" fill="#2b3f27" />
<ellipse cx="992.0" cy="231.0" rx="7.0" ry="7.5" fill="#263823" />
<ellipse cx="1012.0" cy="223.0" rx="8.0" ry="7.5" fill="#32492c" />
<ellipse cx="999.0" cy="221.0" rx="6.0" ry="4.0" fill="#3a5432" />
<ellipse cx="962.5" cy="226.8" rx="10.5" ry="5.2" fill="#30492a" />
<ellipse cx="957.0" cy="229.5" rx="5.0" ry="4.0" fill="#283d24" />
<ellipse cx="968.0" cy="229.0" rx="5.0" ry="4.0" fill="#2c4427" />
<rect x="952.0" y="236.5" width="67.0" height="4.5" fill="#2f352f" />
<rect x="952.0" y="233.0" width="20.0" height="4.5" fill="#454a42" />
<rect x="936.2" y="238.5" width="16.0" height="2.5" fill="#6a6f6c" />
</g></g>
<g clip-path="url(#c2)">
<rect x="936.2" y="252.6" width="82.8" height="53.4" fill="url(#g3)" />
<g filter="url(#bl2)">
<ellipse cx="980.0" cy="285.0" rx="20.0" ry="11.0" fill="#fbfcfd" />
<ellipse cx="987.5" cy="277.5" rx="9.5" ry="6.0" fill="#ffffff" />
<ellipse cx="972.5" cy="279.5" rx="8.5" ry="5.5" fill="#f6f9fc" />
<ellipse cx="964.0" cy="285.0" rx="7.0" ry="5.0" fill="#eef3f9" />
<ellipse cx="955.0" cy="258.0" rx="12.0" ry="3.0" fill="#bcd5ee" />
<ellipse cx="985.0" cy="262.0" rx="16.0" ry="3.0" fill="#b9d3ee" />
</g><g filter="url(#bl)">
<rect x="936.2" y="287.4" width="82.8" height="10.5" fill="#e3e6ea" />
<rect x="936.2" y="297.3" width="82.8" height="9.0" fill="#e9e9ea" />
<rect x="936.2" y="298.2" width="0.5" height="8.0" fill="#cfd1d4" />
<rect x="938.2" y="298.2" width="0.5" height="8.0" fill="#cfd1d4" />
<rect x="940.2" y="298.2" width="0.5" height="8.0" fill="#cfd1d4" />
<rect x="942.2" y="298.2" width="0.5" height="8.0" fill="#cfd1d4" />
<rect x="944.2" y="298.2" width="0.5" height="8.0" fill="#cfd1d4" />
<rect x="946.2" y="298.2" width="0.5" height="8.0" fill="#cfd1d4" />
<rect x="948.2" y="298.2" width="0.5" height="8.0" fill="#cfd1d4" />
<rect x="950.2" y="298.2" width="0.5" height="8.0" fill="#cfd1d4" />
<rect x="952.2" y="298.2" width="0.5" height="8.0" fill="#cfd1d4" />
<rect x="954.2" y="298.2" width="0.5" height="8.0" fill="#cfd1d4" />
<rect x="956.2" y="298.2" width="0.5" height="8.0" fill="#cfd1d4" />
<rect x="958.2" y="298.2" width="0.5" height="8.0" fill="#cfd1d4" />
<rect x="960.2" y="298.2" width="0.5" height="8.0" fill="#cfd1d4" />
<rect x="962.2" y="298.2" width="0.5" height="8.0" fill="#cfd1d4" />
<rect x="964.2" y="298.2" width="0.5" height="8.0" fill="#cfd1d4" />
<rect x="966.2" y="298.2" width="0.5" height="8.0" fill="#cfd1d4" />
<rect x="968.2" y="298.2" width="0.5" height="8.0" fill="#cfd1d4" />
<rect x="970.2" y="298.2" width="0.5" height="8.0" fill="#cfd1d4" />
<rect x="972.2" y="298.2" width="0.5" height="8.0" fill="#cfd1d4" />
<rect x="974.2" y="298.2" width="0.5" height="8.0" fill="#cfd1d4" />
<rect x="976.2" y="298.2" width="0.5" height="8.0" fill="#cfd1d4" />
<rect x="978.2" y="298.2" width="0.5" height="8.0" fill="#cfd1d4" />
<rect x="980.2" y="298.2" width="0.5" height="8.0" fill="#cfd1d4" />
<rect x="982.2" y="298.2" width="0.5" height="8.0" fill="#cfd1d4" />
<rect x="984.2" y="298.2" width="0.5" height="8.0" fill="#cfd1d4" />
<rect x="986.2" y="298.2" width="0.5" height="8.0" fill="#cfd1d4" />
<rect x="988.2" y="298.2" width="0.5" height="8.0" fill="#cfd1d4" />
<rect x="990.2" y="298.2" width="0.5" height="8.0" fill="#cfd1d4" />
<rect x="992.2" y="298.2" width="0.5" height="8.0" fill="#cfd1d4" />
<rect x="994.2" y="298.2" width="0.5" height="8.0" fill="#cfd1d4" />
<rect x="996.2" y="298.2" width="0.5" height="8.0" fill="#cfd1d4" />
<rect x="998.2" y="298.2" width="0.5" height="8.0" fill="#cfd1d4" />
<rect x="1000.2" y="298.2" width="0.5" height="8.0" fill="#cfd1d4" />
<rect x="1002.2" y="298.2" width="0.5" height="8.0" fill="#cfd1d4" />
<rect x="1004.2" y="298.2" width="0.5" height="8.0" fill="#cfd1d4" />
<rect x="1006.2" y="298.2" width="0.5" height="8.0" fill="#cfd1d4" />
<rect x="1008.2" y="298.2" width="0.5" height="8.0" fill="#cfd1d4" />
<rect x="1010.2" y="298.2" width="0.5" height="8.0" fill="#cfd1d4" />
<rect x="1012.2" y="298.2" width="0.5" height="8.0" fill="#cfd1d4" />
<rect x="1014.2" y="298.2" width="0.5" height="8.0" fill="#cfd1d4" />
<rect x="1016.2" y="298.2" width="0.5" height="8.0" fill="#cfd1d4" />
<rect x="1018.2" y="298.2" width="0.5" height="8.0" fill="#cfd1d4" />
<rect x="936.2" y="296.8" width="82.8" height="1.0" fill="#c7cbd0" />
<path d="M942.5,289.2 H954.3 L955.8,295 H940.5 Z" fill="#3b62aa"/>
<path d="M941.5,292.1 H955.3 " stroke="#9db6dc" stroke-width="0.5"/>
<path d="M963.2,289.2 H974.4 L975.9,295 H961.2 Z" fill="#3b62aa"/>
<path d="M962.2,292.1 H975.4 " stroke="#9db6dc" stroke-width="0.5"/>
<path d="M983.7,289.2 H994.9 L996.4,295 H981.7 Z" fill="#3b62aa"/>
<path d="M982.7,292.1 H995.9 " stroke="#9db6dc" stroke-width="0.5"/>
<path d="M1003.8,289.2 H1015.5 L1017.0,295 H1001.8 Z" fill="#3b62aa"/>
<path d="M1002.8,292.1 H1016.5 " stroke="#9db6dc" stroke-width="0.5"/>
<path d="M938.3,289 L940,283.2 L941.7,289 Z" fill="#8f979c"/>
<path d="M957.8,289 L959.5,283.2 L961.2,289 Z" fill="#8f979c"/>
<path d="M977.3,289 L979,283.2 L980.7,289 Z" fill="#8f979c"/>
<path d="M996.3,289 L998,283.2 L999.7,289 Z" fill="#8f979c"/>
<path d="M1014.8,289 L1016.5,283.2 L1018.2,289 Z" fill="#8f979c"/>
</g></g>
<g clip-path="url(#c3)">
<rect x="936.2" y="316.6" width="82.8" height="49.6" fill="#3b6530" />
<g filter="url(#bl)">
<rect x="936.2" y="316.6" width="82.8" height="8.0" fill="#4a3524" />
<ellipse cx="945.0" cy="325.0" rx="7.0" ry="6.0" fill="#5f9a45" />
<ellipse cx="960.0" cy="322.0" rx="8.0" ry="3.0" fill="#73a85a" />
<path d="M950,329 L962,323.2 L1003,321.5 L1006,327.5 L972,330.5 Z" fill="#d6c9a8"/>
<path d="M955,317 L966,331 M975,317 L966,331 M981,317 L983,332 M1000,318 L984,336" stroke="#6a3a22" stroke-width="1.5" fill="none"/>
<rect x="980.0" y="329.0" width="32.0" height="25.5" fill="#35802f" />
<ellipse cx="998.0" cy="344.0" rx="10.0" ry="8.0" fill="#2c6a28" />
<ellipse cx="1000.0" cy="334.0" rx="8.0" ry="4.0" fill="#4f9a3c" />
<rect x="1005.0" y="322.0" width="9.0" height="6.0" fill="#7fae7a" />
<rect x="1011.5" y="316.6" width="7.5" height="44.0" fill="#2f3322" />
<rect x="936.2" y="354.0" width="82.8" height="12.2" fill="#c2beb4" />
<path d="M936.2,357 L990,350 L1019,352 V366.2 H936.2 Z" fill="#c6c2b8"/>
<ellipse cx="1008.0" cy="362.0" rx="10.0" ry="3.0" fill="#8c7a4a" />
<rect x="987.5" y="331.0" width="4.8" height="12.0" fill="#3fae62" />
<rect x="989.3" y="343.0" width="1.2" height="10.0" fill="#c8cfc9" />
<rect x="1003.7" y="337.5" width="7.6" height="17.0" fill="#eceeee" />
<rect x="1004.7" y="345.5" width="5.6" height="5.5" fill="#c8403a" />
<rect x="1004.5" y="339.0" width="6.0" height="4.0" fill="#3a4a62" />
<path d="M938,347.5 Q937.5,338 942,334.5 Q949,331.2 962,331.6 Q972,331.8 977,336 L985.5,343.5 Q989.5,345.5 989.3,350.5 L988.8,356.5 L941,361.5 Q937.5,360 938,353 Z" fill="#d9622a"/>
<path d="M952.5,334 H963.5 L973.5,342.8 L952.5,343.6 Z" fill="#2a2f2d"/>
<path d="M965,334.2 Q970.5,334.4 974.8,338.2 L979.5,342.6 L975.5,342.8 Z" fill="#3b4340"/>
<path d="M940,336.5 Q946,333 951,333.6 L950.6,343.8 L939.3,344.6 Z" fill="#7f93a0"/>
<ellipse cx="945.0" cy="338.5" rx="2.6" ry="3.2" fill="#dfe6ea" />
<rect x="938.0" y="346.3" width="13.0" height="2.6" fill="#a8431c" />
<path d="M952,346 L986,344.5" stroke="#b34f1f" stroke-width="0.8"/>
<ellipse cx="957.3" cy="359.2" rx="5.6" ry="5.9" fill="#23221f" />
<ellipse cx="957.3" cy="359.2" rx="3.1" ry="3.3" fill="#b9bdbf" />
<ellipse cx="985.3" cy="354.6" rx="4.2" ry="4.6" fill="#23221f" />
<ellipse cx="985.3" cy="354.6" rx="2.3" ry="2.5" fill="#b9bdbf" />
<ellipse cx="942.5" cy="357.5" rx="3.6" ry="5.0" fill="#23221f" />
</g></g>
<g clip-path="url(#c4)">
<rect x="936.2" y="376.0" width="82.8" height="38.1" fill="#596641" />
<g filter="url(#bl)">
<ellipse cx="950.0" cy="381.0" rx="12.0" ry="5.0" fill="#6f8749" />
<ellipse cx="985.0" cy="379.0" rx="16.0" ry="3.5" fill="#7d9455" />
<ellipse cx="1012.0" cy="396.0" rx="6.0" ry="12.0" fill="#74864c" />
<ellipse cx="940.0" cy="398.0" rx="5.0" ry="10.0" fill="#46543a" />
<ellipse cx="1016.0" cy="381.0" rx="4.0" ry="4.0" fill="#c9cdb8" />
<ellipse cx="939.0" cy="386.0" rx="3.0" ry="4.0" fill="#a9b090" />
<ellipse cx="962.0" cy="389.0" rx="10.0" ry="4.0" fill="#3b4a2b" />
<ellipse cx="1001.0" cy="385.0" rx="5.0" ry="5.0" fill="#5a4a30" />
<ellipse cx="942.0" cy="392.0" rx="6.0" ry="6.0" fill="#7a5a3a" />
<ellipse cx="1013.0" cy="402.0" rx="6.0" ry="5.0" fill="#8a5e3c" />
<ellipse cx="973.0" cy="378.0" rx="8.0" ry="2.5" fill="#8c7a52" />
<rect x="936.2" y="404.5" width="82.8" height="9.6" fill="#8b8270" />
<rect x="936.2" y="401.5" width="10.0" height="6.0" fill="#9d9a8e" />
<rect x="1001.0" y="404.0" width="18.0" height="5.0" fill="#a5917a" />
<rect x="955.0" y="381.2" width="11.0" height="6.8" fill="#3aa653" />
<rect x="966.0" y="381.2" width="11.0" height="6.8" fill="#e9c433" />
<rect x="977.0" y="381.2" width="11.0" height="6.8" fill="#3d79c9" />
<rect x="988.0" y="381.2" width="10.5" height="6.8" fill="#d8403a" />
<path d="M957,388.6 h3 l-1.5,3 Z" fill="#eef1ee"/>
<path d="M961,388.6 h3 l-1.5,3 Z" fill="#eef1ee"/>
<path d="M965,388.6 h3 l-1.5,3 Z" fill="#eef1ee"/>
<path d="M969,388.6 h3 l-1.5,3 Z" fill="#eef1ee"/>
<path d="M973,388.6 h3 l-1.5,3 Z" fill="#eef1ee"/>
<path d="M977,388.6 h3 l-1.5,3 Z" fill="#eef1ee"/>
<path d="M981,388.6 h3 l-1.5,3 Z" fill="#eef1ee"/>
<path d="M985,388.6 h3 l-1.5,3 Z" fill="#eef1ee"/>
<path d="M989,388.6 h3 l-1.5,3 Z" fill="#eef1ee"/>
<path d="M993,388.6 h3 l-1.5,3 Z" fill="#eef1ee"/>
<path d="M997,388.6 h3 l-1.5,3 Z" fill="#eef1ee"/>
<ellipse cx="960.5" cy="384.5" rx="1.6" ry="1.8" fill="#f3f3ee" />
<ellipse cx="971.5" cy="384.5" rx="1.6" ry="1.8" fill="#f3f3ee" />
<ellipse cx="982.5" cy="384.5" rx="1.6" ry="1.8" fill="#f3f3ee" />
<ellipse cx="993.5" cy="384.5" rx="1.6" ry="1.8" fill="#f3f3ee" />
<rect x="1004.4" y="379.5" width="10.6" height="21.0" fill="#f1f1ee" />
<circle cx="1009.7" cy="392.5" r="3.4" fill="none" stroke="#cf4848" stroke-width="1"/>
<rect x="1006.0" y="382.0" width="7.5" height="4.5" fill="#d9a6a6" />
<rect x="1009.0" y="400.5" width="1.2" height="8.0" fill="#9a9a92" />
<path d="M945.6,397.7 H956 L955.1,413.4 H946.5 Z" fill="#23843f"/>
<path d="M944.8000000000001,398.0 Q950.8,390.59999999999997 956.8,398.0 Z" fill="#1d5f2f"/>
<ellipse cx="950.8" cy="404.7" rx="2.3" ry="2.5" fill="#f0f0e6" opacity="0.85"/>
<path d="M961,397.1 H971.5 L970.6,413.4 H961.9 Z" fill="#dcb726"/>
<path d="M960.2,397.40000000000003 Q966.25,390.0 972.3,397.40000000000003 Z" fill="#2b2b25"/>
<ellipse cx="966.2" cy="404.1" rx="2.3" ry="2.5" fill="#f0f0e6" opacity="0.85"/>
<path d="M973.3,397.5 H984.5 L983.6,413.4 H974.1999999999999 Z" fill="#2460b3"/>
<path d="M972.5,397.8 Q978.9,390.4 985.3,397.8 Z" fill="#1d4c90"/>
<ellipse cx="978.9" cy="404.5" rx="2.3" ry="2.5" fill="#f0f0e6" opacity="0.85"/>
<path d="M989.7,396.9 H1001 L1000.1,413.4 H990.6 Z" fill="#c9332d"/>
<path d="M988.9000000000001,397.2 Q995.35,389.79999999999995 1001.8,397.2 Z" fill="#2b2523"/>
<ellipse cx="995.4" cy="403.9" rx="2.3" ry="2.5" fill="#f0f0e6" opacity="0.85"/>
</g></g>
<g clip-path="url(#c5)">
<rect x="936.2" y="414.1" width="82.8" height="49.5" fill="#e3e6e6" />
<g filter="url(#bl)">
<rect x="936.2" y="414.1" width="82.8" height="5.0" fill="#d6d9d8" />
<rect x="936.2" y="455.0" width="82.8" height="8.6" fill="#cfd2d1" />
<rect x="936.2" y="418.0" width="12.0" height="30.0" fill="#eef0ef" />
<rect x="1010.0" y="418.0" width="9.0" height="22.0" fill="#f2f3f1" />
<rect x="975.0" y="415.0" width="6.0" height="12.0" fill="#b9bdbc" />
<ellipse cx="964.5" cy="421.8" rx="2.6" ry="3.1" fill="#4a3a30" />
<rect x="960.0" y="424.5" width="9.5" height="6.0" fill="#343a3c" />
<ellipse cx="986.0" cy="423.0" rx="2.6" ry="3.0" fill="#4a3a30" />
<rect x="982.0" y="425.8" width="9.0" height="5.0" fill="#3a3f40" />
<ellipse cx="1004.0" cy="420.2" rx="2.6" ry="3.0" fill="#3b2f29" />
<path d="M998.5,425 Q1004,422.5 1010,425.5 L1010.5,446 H999 Z" fill="#3a5fa8"/>
<rect x="1008.0" y="432.0" width="5.5" height="14.0" fill="#e4cf4f" />
<rect x="1013.5" y="434.0" width="5.5" height="14.0" fill="#d9c646" />
<rect x="993.0" y="415.0" width="6.0" height="9.0" fill="#4a4a48" />
<path d="M947,430 Q944,427 952,426.3 L966,427 Q968.5,428 967,431 L968,458 Q962,462 950,460.5 Q943.5,458 944.8,452 Z" fill="#7cc2aa"/>
<path d="M968,430 Q966.5,427 973,426.5 L985,426.8 Q988,428 986.5,431 L987.3,456.5 Q979,460 969.5,457.5 Q966,452 967.4,445 Z" fill="#74bca3"/>
<path d="M988.5,429.5 Q987,426 993,425.6 L1004,426 Q1007.5,427.5 1006,431 L1007.3,457.5 Q999,461.5 989.5,459 Q986,452 987.6,445 Z" fill="#78bfa7"/>
<ellipse cx="950.8" cy="446.1" rx="3.2" ry="2.4" fill="#4fa587" opacity="0.75"/>
<ellipse cx="957.6" cy="447.5" rx="1.8" ry="1.8" fill="#3f9577" opacity="0.75"/>
<ellipse cx="965.9" cy="444.3" rx="2.2" ry="2.9" fill="#b5ddcf" opacity="0.75"/>
<ellipse cx="949.0" cy="448.2" rx="2.1" ry="1.2" fill="#b5ddcf" opacity="0.75"/>
<ellipse cx="961.5" cy="436.8" rx="1.3" ry="3.2" fill="#b5ddcf" opacity="0.75"/>
<ellipse cx="962.5" cy="439.5" rx="2.8" ry="3.5" fill="#b5ddcf" opacity="0.75"/>
<ellipse cx="960.3" cy="455.1" rx="2.8" ry="2.7" fill="#3f9577" opacity="0.75"/>
<ellipse cx="965.3" cy="436.2" rx="1.4" ry="1.6" fill="#4fa587" opacity="0.75"/>
<ellipse cx="950.3" cy="456.2" rx="2.9" ry="3.4" fill="#3f9577" opacity="0.75"/>
<ellipse cx="954.4" cy="453.0" rx="2.0" ry="2.7" fill="#b5ddcf" opacity="0.75"/>
<ellipse cx="957.7" cy="454.7" rx="3.2" ry="1.3" fill="#5fb096" opacity="0.75"/>
<ellipse cx="951.6" cy="447.5" rx="1.6" ry="3.4" fill="#5fb096" opacity="0.75"/>
<ellipse cx="965.3" cy="454.7" rx="1.4" ry="2.9" fill="#b5ddcf" opacity="0.75"/>
<ellipse cx="958.7" cy="456.7" rx="1.8" ry="1.4" fill="#4fa587" opacity="0.75"/>
<ellipse cx="963.1" cy="456.8" rx="2.0" ry="1.4" fill="#cfe9df" opacity="0.75"/>
<ellipse cx="963.9" cy="433.5" rx="2.9" ry="3.5" fill="#3f9577" opacity="0.75"/>
<ellipse cx="969.8" cy="447.7" rx="2.0" ry="2.7" fill="#cfe9df" opacity="0.75"/>
<ellipse cx="978.4" cy="455.1" rx="2.3" ry="3.8" fill="#4fa587" opacity="0.75"/>
<ellipse cx="974.3" cy="434.8" rx="2.4" ry="3.7" fill="#b5ddcf" opacity="0.75"/>
<ellipse cx="985.5" cy="440.0" rx="1.5" ry="1.3" fill="#4fa587" opacity="0.75"/>
<ellipse cx="983.8" cy="440.5" rx="3.2" ry="2.2" fill="#e3f2ec" opacity="0.75"/>
<ellipse cx="976.8" cy="445.5" rx="3.1" ry="3.0" fill="#5fb096" opacity="0.75"/>
<ellipse cx="970.7" cy="456.3" rx="1.8" ry="2.8" fill="#b5ddcf" opacity="0.75"/>
<ellipse cx="981.2" cy="455.5" rx="3.4" ry="2.6" fill="#3f9577" opacity="0.75"/>
<ellipse cx="978.3" cy="433.3" rx="3.4" ry="2.0" fill="#3f9577" opacity="0.75"/>
<ellipse cx="975.4" cy="447.1" rx="1.3" ry="2.8" fill="#e3f2ec" opacity="0.75"/>
<ellipse cx="976.9" cy="449.3" rx="2.5" ry="1.9" fill="#4fa587" opacity="0.75"/>
<ellipse cx="977.3" cy="447.1" rx="1.2" ry="2.2" fill="#5fb096" opacity="0.75"/>
<ellipse cx="979.7" cy="440.2" rx="1.9" ry="2.1" fill="#b5ddcf" opacity="0.75"/>
<ellipse cx="974.3" cy="441.9" rx="1.8" ry="3.2" fill="#b5ddcf" opacity="0.75"/>
<ellipse cx="970.8" cy="452.5" rx="2.7" ry="1.5" fill="#b5ddcf" opacity="0.75"/>
<ellipse cx="977.5" cy="448.7" rx="1.7" ry="1.7" fill="#4fa587" opacity="0.75"/>
<ellipse cx="996.7" cy="449.8" rx="2.5" ry="3.7" fill="#cfe9df" opacity="0.75"/>
<ellipse cx="1000.6" cy="438.4" rx="1.4" ry="3.1" fill="#e3f2ec" opacity="0.75"/>
<ellipse cx="993.1" cy="446.6" rx="1.7" ry="1.5" fill="#4fa587" opacity="0.75"/>
<ellipse cx="998.2" cy="437.6" rx="1.6" ry="1.9" fill="#b5ddcf" opacity="0.75"/>
<ellipse cx="1002.8" cy="448.4" rx="2.0" ry="1.5" fill="#b5ddcf" opacity="0.75"/>
<ellipse cx="994.3" cy="452.1" rx="2.2" ry="2.8" fill="#4fa587" opacity="0.75"/>
<ellipse cx="994.3" cy="446.6" rx="3.2" ry="1.6" fill="#cfe9df" opacity="0.75"/>
<ellipse cx="989.6" cy="455.6" rx="3.4" ry="2.3" fill="#b5ddcf" opacity="0.75"/>
<ellipse cx="1005.2" cy="455.3" rx="1.3" ry="2.4" fill="#e3f2ec" opacity="0.75"/>
<ellipse cx="1001.9" cy="451.0" rx="2.4" ry="3.5" fill="#4fa587" opacity="0.75"/>
<ellipse cx="1003.7" cy="453.6" rx="1.5" ry="1.8" fill="#4fa587" opacity="0.75"/>
<ellipse cx="990.1" cy="452.3" rx="3.2" ry="3.5" fill="#b5ddcf" opacity="0.75"/>
<ellipse cx="1004.3" cy="446.8" rx="2.3" ry="1.5" fill="#cfe9df" opacity="0.75"/>
<ellipse cx="997.8" cy="438.7" rx="2.4" ry="2.3" fill="#cfe9df" opacity="0.75"/>
<ellipse cx="1005.0" cy="447.7" rx="1.5" ry="3.7" fill="#4fa587" opacity="0.75"/>
<ellipse cx="998.4" cy="452.5" rx="2.0" ry="1.7" fill="#cfe9df" opacity="0.75"/>
<path d="M947,430 Q956,433 967,430.5 M968,430.5 Q977,433 986.5,430.5 M988.5,430 Q997,433 1006,430.5" stroke="#2c7a60" stroke-width="1" fill="none"/>
</g></g>
<g clip-path="url(#c6)">
<rect x="936.2" y="474.3" width="82.8" height="45.7" fill="#3c4f2b" />
<g filter="url(#bl)">
<rect x="936.2" y="474.3" width="82.8" height="6.0" fill="#d9dcda" />
<rect x="936.2" y="479.0" width="82.8" height="2.2" fill="#8c9a86" />
<ellipse cx="963.0" cy="487.7" rx="2.2" ry="1.7" fill="#485a33" opacity="0.85"/>
<ellipse cx="1004.2" cy="485.6" rx="2.0" ry="1.6" fill="#6b7654" opacity="0.85"/>
<ellipse cx="954.0" cy="485.3" rx="1.7" ry="1.3" fill="#334628" opacity="0.85"/>
<ellipse cx="943.7" cy="498.1" rx="2.5" ry="1.9" fill="#485a33" opacity="0.85"/>
<ellipse cx="1014.6" cy="506.0" rx="2.0" ry="1.6" fill="#2d4022" opacity="0.85"/>
<ellipse cx="984.0" cy="497.1" rx="2.8" ry="2.2" fill="#2d4022" opacity="0.85"/>
<ellipse cx="982.3" cy="487.1" rx="1.7" ry="1.3" fill="#6b7654" opacity="0.85"/>
<ellipse cx="946.0" cy="493.7" rx="2.5" ry="1.9" fill="#55653b" opacity="0.85"/>
<ellipse cx="944.7" cy="503.7" rx="1.3" ry="1.0" fill="#485a33" opacity="0.85"/>
<ellipse cx="981.6" cy="484.4" rx="1.0" ry="0.8" fill="#334628" opacity="0.85"/>
<ellipse cx="977.3" cy="502.2" rx="2.4" ry="1.9" fill="#3a4a2c" opacity="0.85"/>
<ellipse cx="984.7" cy="499.2" rx="1.5" ry="1.1" fill="#55653b" opacity="0.85"/>
<ellipse cx="994.1" cy="491.3" rx="2.0" ry="1.6" fill="#6b7654" opacity="0.85"/>
<ellipse cx="977.2" cy="495.1" rx="1.8" ry="1.4" fill="#485a33" opacity="0.85"/>
<ellipse cx="946.0" cy="497.9" rx="2.4" ry="1.8" fill="#55653b" opacity="0.85"/>
<ellipse cx="1013.5" cy="498.0" rx="2.8" ry="2.1" fill="#485a33" opacity="0.85"/>
<ellipse cx="999.5" cy="503.8" rx="2.6" ry="2.0" fill="#62704a" opacity="0.85"/>
<ellipse cx="964.4" cy="495.3" rx="1.9" ry="1.4" fill="#3a4a2c" opacity="0.85"/>
<ellipse cx="941.9" cy="485.6" rx="1.4" ry="1.1" fill="#485a33" opacity="0.85"/>
<ellipse cx="941.2" cy="508.7" rx="2.2" ry="1.7" fill="#3a4a2c" opacity="0.85"/>
<ellipse cx="959.8" cy="496.7" rx="2.2" ry="1.7" fill="#2d4022" opacity="0.85"/>
<ellipse cx="1014.1" cy="495.5" rx="2.1" ry="1.6" fill="#3a4a2c" opacity="0.85"/>
<ellipse cx="941.1" cy="511.2" rx="1.2" ry="0.9" fill="#334628" opacity="0.85"/>
<ellipse cx="969.1" cy="516.8" rx="1.9" ry="1.4" fill="#55653b" opacity="0.85"/>
<ellipse cx="973.4" cy="502.9" rx="2.6" ry="2.0" fill="#43542f" opacity="0.85"/>
<ellipse cx="1007.7" cy="492.6" rx="1.7" ry="1.3" fill="#62704a" opacity="0.85"/>
<ellipse cx="992.7" cy="496.5" rx="1.4" ry="1.0" fill="#485a33" opacity="0.85"/>
<ellipse cx="950.8" cy="490.8" rx="1.4" ry="1.1" fill="#3a4a2c" opacity="0.85"/>
<ellipse cx="1005.0" cy="488.9" rx="1.5" ry="1.1" fill="#55653b" opacity="0.85"/>
<ellipse cx="970.9" cy="496.0" rx="2.0" ry="1.5" fill="#55653b" opacity="0.85"/>
<ellipse cx="993.4" cy="501.6" rx="2.1" ry="1.6" fill="#2d4022" opacity="0.85"/>
<ellipse cx="974.0" cy="515.1" rx="2.8" ry="2.1" fill="#6b7654" opacity="0.85"/>
<ellipse cx="968.7" cy="497.2" rx="1.1" ry="0.9" fill="#43542f" opacity="0.85"/>
<ellipse cx="941.4" cy="484.6" rx="1.3" ry="1.0" fill="#55653b" opacity="0.85"/>
<ellipse cx="945.3" cy="504.8" rx="1.1" ry="0.9" fill="#55653b" opacity="0.85"/>
<ellipse cx="980.6" cy="518.1" rx="2.1" ry="1.6" fill="#485a33" opacity="0.85"/>
<ellipse cx="1008.6" cy="505.3" rx="1.2" ry="0.9" fill="#29381f" opacity="0.85"/>
<ellipse cx="1015.3" cy="504.9" rx="1.8" ry="1.4" fill="#485a33" opacity="0.85"/>
<ellipse cx="1006.5" cy="519.7" rx="1.8" ry="1.4" fill="#3a4a2c" opacity="0.85"/>
<ellipse cx="962.0" cy="487.5" rx="2.4" ry="1.8" fill="#29381f" opacity="0.85"/>
<ellipse cx="975.8" cy="508.3" rx="1.9" ry="1.5" fill="#334628" opacity="0.85"/>
<ellipse cx="1014.9" cy="502.1" rx="1.2" ry="0.9" fill="#6b7654" opacity="0.85"/>
<ellipse cx="1011.9" cy="510.8" rx="1.5" ry="1.1" fill="#485a33" opacity="0.85"/>
<ellipse cx="993.8" cy="491.9" rx="1.6" ry="1.3" fill="#55653b" opacity="0.85"/>
<ellipse cx="965.7" cy="490.5" rx="2.0" ry="1.5" fill="#6b7654" opacity="0.85"/>
<ellipse cx="963.5" cy="490.5" rx="2.5" ry="1.9" fill="#334628" opacity="0.85"/>
<ellipse cx="1002.9" cy="513.1" rx="2.4" ry="1.8" fill="#334628" opacity="0.85"/>
<ellipse cx="952.8" cy="500.7" rx="2.3" ry="1.8" fill="#2d4022" opacity="0.85"/>
<ellipse cx="1001.6" cy="499.9" rx="1.3" ry="1.0" fill="#62704a" opacity="0.85"/>
<ellipse cx="973.2" cy="517.6" rx="2.8" ry="2.2" fill="#62704a" opacity="0.85"/>
<ellipse cx="942.9" cy="485.9" rx="1.8" ry="1.4" fill="#62704a" opacity="0.85"/>
<ellipse cx="953.1" cy="505.7" rx="2.7" ry="2.1" fill="#2d4022" opacity="0.85"/>
<ellipse cx="975.9" cy="506.8" rx="2.5" ry="1.9" fill="#485a33" opacity="0.85"/>
<ellipse cx="1005.3" cy="486.6" rx="1.7" ry="1.3" fill="#334628" opacity="0.85"/>
<ellipse cx="975.8" cy="488.8" rx="2.4" ry="1.9" fill="#62704a" opacity="0.85"/>
<ellipse cx="943.4" cy="518.0" rx="2.3" ry="1.8" fill="#3a4a2c" opacity="0.85"/>
<ellipse cx="969.4" cy="518.0" rx="2.3" ry="1.8" fill="#55653b" opacity="0.85"/>
<ellipse cx="1018.4" cy="483.0" rx="2.1" ry="1.6" fill="#3a4a2c" opacity="0.85"/>
<ellipse cx="1003.0" cy="487.6" rx="2.5" ry="1.9" fill="#3a4a2c" opacity="0.85"/>
<ellipse cx="990.6" cy="495.3" rx="2.0" ry="1.5" fill="#55653b" opacity="0.85"/>
<ellipse cx="938.0" cy="512.4" rx="2.3" ry="1.8" fill="#485a33" opacity="0.85"/>
<ellipse cx="979.8" cy="517.5" rx="1.8" ry="1.4" fill="#334628" opacity="0.85"/>
<ellipse cx="1004.6" cy="490.0" rx="1.4" ry="1.1" fill="#29381f" opacity="0.85"/>
<ellipse cx="977.7" cy="511.0" rx="1.5" ry="1.2" fill="#6b7654" opacity="0.85"/>
<ellipse cx="970.9" cy="487.0" rx="2.7" ry="2.1" fill="#62704a" opacity="0.85"/>
<ellipse cx="1010.5" cy="507.2" rx="2.5" ry="1.9" fill="#6b7654" opacity="0.85"/>
<ellipse cx="971.0" cy="516.9" rx="1.9" ry="1.5" fill="#6b7654" opacity="0.85"/>
<ellipse cx="948.8" cy="501.4" rx="2.6" ry="2.0" fill="#55653b" opacity="0.85"/>
<ellipse cx="986.6" cy="511.5" rx="1.2" ry="0.9" fill="#55653b" opacity="0.85"/>
<ellipse cx="975.4" cy="509.6" rx="2.0" ry="1.5" fill="#62704a" opacity="0.85"/>
<ellipse cx="992.7" cy="502.2" rx="1.9" ry="1.4" fill="#485a33" opacity="0.85"/>
<ellipse cx="1009.3" cy="484.2" rx="1.3" ry="1.0" fill="#2d4022" opacity="0.85"/>
<ellipse cx="1000.1" cy="501.3" rx="2.0" ry="1.5" fill="#485a33" opacity="0.85"/>
<ellipse cx="972.9" cy="505.3" rx="1.9" ry="1.5" fill="#6b7654" opacity="0.85"/>
<ellipse cx="952.7" cy="492.5" rx="1.9" ry="1.5" fill="#3a4a2c" opacity="0.85"/>
<ellipse cx="978.2" cy="491.4" rx="1.9" ry="1.5" fill="#29381f" opacity="0.85"/>
<ellipse cx="1012.6" cy="515.9" rx="1.3" ry="1.0" fill="#3a4a2c" opacity="0.85"/>
<ellipse cx="947.6" cy="486.6" rx="1.8" ry="1.4" fill="#485a33" opacity="0.85"/>
<ellipse cx="991.8" cy="498.3" rx="1.3" ry="1.0" fill="#29381f" opacity="0.85"/>
<ellipse cx="1001.1" cy="516.1" rx="1.2" ry="0.9" fill="#62704a" opacity="0.85"/>
<ellipse cx="948.0" cy="515.5" rx="2.8" ry="2.2" fill="#334628" opacity="0.85"/>
<ellipse cx="998.0" cy="485.6" rx="2.6" ry="2.0" fill="#55653b" opacity="0.85"/>
<ellipse cx="1018.2" cy="513.6" rx="1.2" ry="0.9" fill="#43542f" opacity="0.85"/>
<ellipse cx="1018.5" cy="497.3" rx="1.7" ry="1.3" fill="#62704a" opacity="0.85"/>
<ellipse cx="962.6" cy="509.4" rx="0.9" ry="0.7" fill="#6b7654" opacity="0.85"/>
<ellipse cx="974.2" cy="508.7" rx="1.7" ry="1.3" fill="#6b7654" opacity="0.85"/>
<ellipse cx="987.9" cy="501.5" rx="1.0" ry="0.8" fill="#334628" opacity="0.85"/>
<ellipse cx="1016.7" cy="486.0" rx="1.4" ry="1.1" fill="#2d4022" opacity="0.85"/>
<ellipse cx="1011.2" cy="488.9" rx="2.4" ry="1.8" fill="#43542f" opacity="0.85"/>
<ellipse cx="1006.5" cy="507.7" rx="2.8" ry="2.1" fill="#43542f" opacity="0.85"/>
<ellipse cx="948.6" cy="516.9" rx="2.0" ry="1.6" fill="#62704a" opacity="0.85"/>
<ellipse cx="943.6" cy="484.2" rx="2.3" ry="1.7" fill="#43542f" opacity="0.85"/>
<ellipse cx="1010.3" cy="492.2" rx="0.9" ry="0.7" fill="#485a33" opacity="0.85"/>
<ellipse cx="1002.6" cy="485.2" rx="2.6" ry="2.0" fill="#485a33" opacity="0.85"/>
<ellipse cx="958.1" cy="486.6" rx="0.9" ry="0.7" fill="#6b7654" opacity="0.85"/>
<ellipse cx="970.8" cy="516.8" rx="2.1" ry="1.6" fill="#2d4022" opacity="0.85"/>
<ellipse cx="979.8" cy="491.1" rx="1.1" ry="0.9" fill="#55653b" opacity="0.85"/>
<ellipse cx="957.9" cy="488.9" rx="2.7" ry="2.1" fill="#29381f" opacity="0.85"/>
<ellipse cx="980.2" cy="489.8" rx="1.8" ry="1.4" fill="#55653b" opacity="0.85"/>
<ellipse cx="958.6" cy="512.5" rx="2.8" ry="2.2" fill="#2d4022" opacity="0.85"/>
<ellipse cx="937.5" cy="509.9" rx="2.0" ry="1.5" fill="#334628" opacity="0.85"/>
<ellipse cx="978.8" cy="491.3" rx="1.8" ry="1.4" fill="#43542f" opacity="0.85"/>
<ellipse cx="990.6" cy="502.7" rx="2.6" ry="2.0" fill="#6b7654" opacity="0.85"/>
<ellipse cx="961.7" cy="490.2" rx="1.4" ry="1.0" fill="#334628" opacity="0.85"/>
<ellipse cx="1005.1" cy="508.9" rx="2.2" ry="1.7" fill="#43542f" opacity="0.85"/>
<ellipse cx="1018.1" cy="519.3" rx="2.5" ry="2.0" fill="#2d4022" opacity="0.85"/>
<ellipse cx="942.1" cy="510.2" rx="1.4" ry="1.1" fill="#55653b" opacity="0.85"/>
<ellipse cx="940.8" cy="507.3" rx="1.7" ry="1.3" fill="#6b7654" opacity="0.85"/>
<ellipse cx="991.7" cy="492.7" rx="1.4" ry="1.1" fill="#29381f" opacity="0.85"/>
<ellipse cx="939.9" cy="489.0" rx="1.4" ry="1.1" fill="#2d4022" opacity="0.85"/>
<ellipse cx="958.0" cy="518.5" rx="2.8" ry="2.2" fill="#6b7654" opacity="0.85"/>
<ellipse cx="963.0" cy="483.3" rx="2.6" ry="2.0" fill="#334628" opacity="0.85"/>
<ellipse cx="965.7" cy="482.0" rx="1.7" ry="1.3" fill="#3a4a2c" opacity="0.85"/>
<ellipse cx="959.3" cy="506.9" rx="1.4" ry="1.1" fill="#2d4022" opacity="0.85"/>
<ellipse cx="943.7" cy="513.0" rx="1.2" ry="0.9" fill="#2d4022" opacity="0.85"/>
<ellipse cx="968.8" cy="493.4" rx="2.1" ry="1.6" fill="#485a33" opacity="0.85"/>
<ellipse cx="984.7" cy="502.1" rx="2.4" ry="1.8" fill="#43542f" opacity="0.85"/>
<ellipse cx="999.5" cy="509.4" rx="1.9" ry="1.4" fill="#29381f" opacity="0.85"/>
<ellipse cx="996.2" cy="506.4" rx="1.0" ry="0.8" fill="#6b7654" opacity="0.85"/>
<ellipse cx="988.1" cy="509.9" rx="2.5" ry="1.9" fill="#55653b" opacity="0.85"/>
<ellipse cx="1011.5" cy="510.6" rx="2.0" ry="1.6" fill="#2d4022" opacity="0.85"/>
<ellipse cx="1004.6" cy="504.2" rx="2.7" ry="2.0" fill="#334628" opacity="0.85"/>
<ellipse cx="943.2" cy="483.6" rx="2.2" ry="1.7" fill="#485a33" opacity="0.85"/>
<ellipse cx="967.4" cy="499.2" rx="1.0" ry="0.8" fill="#2d4022" opacity="0.85"/>
<ellipse cx="988.1" cy="507.9" rx="1.9" ry="1.4" fill="#2d4022" opacity="0.85"/>
<ellipse cx="974.0" cy="484.7" rx="2.7" ry="2.1" fill="#6b7654" opacity="0.85"/>
<ellipse cx="943.8" cy="502.0" rx="2.4" ry="1.8" fill="#3a4a2c" opacity="0.85"/>
<ellipse cx="957.1" cy="484.8" rx="1.4" ry="1.1" fill="#334628" opacity="0.85"/>
<ellipse cx="955.3" cy="506.7" rx="1.8" ry="1.4" fill="#43542f" opacity="0.85"/>
<ellipse cx="942.6" cy="516.6" rx="1.5" ry="1.1" fill="#2d4022" opacity="0.85"/>
<ellipse cx="987.3" cy="506.4" rx="1.1" ry="0.8" fill="#55653b" opacity="0.85"/>
<ellipse cx="963.7" cy="506.8" rx="2.3" ry="1.7" fill="#55653b" opacity="0.85"/>
<ellipse cx="937.2" cy="484.3" rx="1.4" ry="1.1" fill="#485a33" opacity="0.85"/>
<ellipse cx="993.5" cy="507.7" rx="1.5" ry="1.1" fill="#6b7654" opacity="0.85"/>
<ellipse cx="959.8" cy="499.7" rx="2.4" ry="1.9" fill="#6b7654" opacity="0.85"/>
<ellipse cx="952.7" cy="519.2" rx="2.7" ry="2.1" fill="#2d4022" opacity="0.85"/>
<ellipse cx="960.2" cy="484.9" rx="1.9" ry="1.5" fill="#3a4a2c" opacity="0.85"/>
<ellipse cx="1018.5" cy="496.7" rx="2.7" ry="2.1" fill="#334628" opacity="0.85"/>
<ellipse cx="942.4" cy="485.4" rx="2.4" ry="1.8" fill="#29381f" opacity="0.85"/>
<ellipse cx="1015.1" cy="487.0" rx="2.5" ry="1.9" fill="#6b7654" opacity="0.85"/>
<ellipse cx="959.3" cy="486.3" rx="1.6" ry="1.2" fill="#3a4a2c" opacity="0.85"/>
<ellipse cx="1010.5" cy="500.5" rx="1.0" ry="0.7" fill="#2d4022" opacity="0.85"/>
<ellipse cx="1014.9" cy="507.9" rx="1.7" ry="1.3" fill="#55653b" opacity="0.85"/>
<ellipse cx="970.7" cy="496.3" rx="1.1" ry="0.9" fill="#62704a" opacity="0.85"/>
<ellipse cx="936.3" cy="510.5" rx="2.5" ry="2.0" fill="#485a33" opacity="0.85"/>
<ellipse cx="1014.0" cy="489.4" rx="0.9" ry="0.7" fill="#29381f" opacity="0.85"/>
<ellipse cx="957.2" cy="484.5" rx="1.7" ry="1.3" fill="#485a33" opacity="0.85"/>
<ellipse cx="966.1" cy="498.3" rx="1.4" ry="1.1" fill="#2d4022" opacity="0.85"/>
<ellipse cx="959.4" cy="484.0" rx="2.2" ry="1.7" fill="#55653b" opacity="0.85"/>
<ellipse cx="956.8" cy="492.1" rx="1.9" ry="1.5" fill="#334628" opacity="0.85"/>
<ellipse cx="1000.2" cy="511.8" rx="1.7" ry="1.3" fill="#2d4022" opacity="0.85"/>
<ellipse cx="1003.4" cy="506.0" rx="2.7" ry="2.1" fill="#6b7654" opacity="0.85"/>
<ellipse cx="981.7" cy="509.3" rx="1.0" ry="0.8" fill="#43542f" opacity="0.85"/>
<ellipse cx="973.5" cy="510.6" rx="2.2" ry="1.7" fill="#29381f" opacity="0.85"/>
<ellipse cx="976.4" cy="516.7" rx="2.0" ry="1.5" fill="#55653b" opacity="0.85"/>
<ellipse cx="975.3" cy="495.1" rx="1.5" ry="1.1" fill="#29381f" opacity="0.85"/>
<ellipse cx="969.8" cy="491.1" rx="1.9" ry="1.4" fill="#43542f" opacity="0.85"/>
<ellipse cx="946.1" cy="506.4" rx="1.1" ry="0.8" fill="#6b7654" opacity="0.85"/>
<ellipse cx="1011.2" cy="500.9" rx="1.3" ry="1.0" fill="#62704a" opacity="0.85"/>
<ellipse cx="1018.7" cy="499.1" rx="1.2" ry="0.9" fill="#334628" opacity="0.85"/>
<ellipse cx="956.4" cy="488.6" rx="2.0" ry="1.5" fill="#62704a" opacity="0.85"/>
<ellipse cx="956.0" cy="491.8" rx="2.0" ry="1.6" fill="#2d4022" opacity="0.85"/>
<ellipse cx="998.3" cy="497.7" rx="1.7" ry="1.3" fill="#6b7654" opacity="0.85"/>
<ellipse cx="953.6" cy="492.3" rx="2.4" ry="1.8" fill="#3a4a2c" opacity="0.85"/>
<ellipse cx="959.2" cy="518.8" rx="1.2" ry="0.9" fill="#6b7654" opacity="0.85"/>
<ellipse cx="980.0" cy="512.0" rx="2.6" ry="2.0" fill="#485a33" opacity="0.85"/>
<ellipse cx="958.6" cy="491.4" rx="1.7" ry="1.3" fill="#3a4a2c" opacity="0.85"/>
<ellipse cx="972.0" cy="493.9" rx="2.5" ry="1.9" fill="#2d4022" opacity="0.85"/>
<ellipse cx="946.7" cy="498.2" rx="2.4" ry="1.8" fill="#3a4a2c" opacity="0.85"/>
<ellipse cx="1016.4" cy="500.6" rx="1.1" ry="0.8" fill="#6b7654" opacity="0.85"/>
<ellipse cx="1007.0" cy="518.9" rx="1.4" ry="1.1" fill="#485a33" opacity="0.85"/>
<ellipse cx="954.7" cy="487.8" rx="2.8" ry="2.2" fill="#485a33" opacity="0.85"/>
<ellipse cx="1014.2" cy="509.4" rx="2.2" ry="1.7" fill="#3a4a2c" opacity="0.85"/>
<ellipse cx="943.2" cy="511.5" rx="0.9" ry="0.7" fill="#55653b" opacity="0.85"/>
<ellipse cx="955.5" cy="517.0" rx="2.2" ry="1.7" fill="#29381f" opacity="0.85"/>
<ellipse cx="1015.9" cy="505.8" rx="1.9" ry="1.5" fill="#43542f" opacity="0.85"/>
<ellipse cx="994.0" cy="486.3" rx="1.0" ry="0.8" fill="#6b7654" opacity="0.85"/>
<ellipse cx="1014.3" cy="489.3" rx="1.4" ry="1.1" fill="#2d4022" opacity="0.85"/>
<ellipse cx="937.1" cy="493.5" rx="1.8" ry="1.4" fill="#62704a" opacity="0.85"/>
<ellipse cx="989.6" cy="515.6" rx="1.8" ry="1.4" fill="#334628" opacity="0.85"/>
<ellipse cx="981.5" cy="483.1" rx="1.7" ry="1.3" fill="#29381f" opacity="0.85"/>
<ellipse cx="940.8" cy="489.4" rx="2.6" ry="2.0" fill="#43542f" opacity="0.85"/>
<ellipse cx="942.9" cy="490.7" rx="1.7" ry="1.3" fill="#62704a" opacity="0.85"/>
<ellipse cx="955.0" cy="483.3" rx="1.6" ry="1.2" fill="#43542f" opacity="0.85"/>
<ellipse cx="966.2" cy="497.1" rx="0.9" ry="0.7" fill="#29381f" opacity="0.85"/>
<ellipse cx="997.4" cy="501.2" rx="1.3" ry="1.0" fill="#334628" opacity="0.85"/>
<ellipse cx="962.0" cy="513.2" rx="1.4" ry="1.0" fill="#334628" opacity="0.85"/>
<ellipse cx="958.1" cy="515.8" rx="1.1" ry="0.9" fill="#3a4a2c" opacity="0.85"/>
<ellipse cx="986.7" cy="516.1" rx="1.9" ry="1.4" fill="#2d4022" opacity="0.85"/>
<ellipse cx="1014.8" cy="487.6" rx="1.7" ry="1.3" fill="#334628" opacity="0.85"/>
<ellipse cx="938.2" cy="504.7" rx="1.7" ry="1.3" fill="#2d4022" opacity="0.85"/>
<ellipse cx="951.4" cy="499.1" rx="2.3" ry="1.8" fill="#62704a" opacity="0.85"/>
<ellipse cx="996.9" cy="519.9" rx="2.7" ry="2.1" fill="#62704a" opacity="0.85"/>
<ellipse cx="952.0" cy="506.8" rx="1.9" ry="1.5" fill="#3a4a2c" opacity="0.85"/>
<ellipse cx="938.8" cy="507.2" rx="1.6" ry="1.3" fill="#62704a" opacity="0.85"/>
<ellipse cx="1017.8" cy="498.8" rx="1.1" ry="0.9" fill="#485a33" opacity="0.85"/>
<ellipse cx="959.4" cy="495.4" rx="2.8" ry="2.1" fill="#485a33" opacity="0.85"/>
<ellipse cx="982.7" cy="510.8" rx="1.7" ry="1.3" fill="#29381f" opacity="0.85"/>
<ellipse cx="1004.3" cy="498.4" rx="1.0" ry="0.8" fill="#3a4a2c" opacity="0.85"/>
<ellipse cx="952.4" cy="502.6" rx="1.8" ry="1.4" fill="#62704a" opacity="0.85"/>
<ellipse cx="966.4" cy="516.1" rx="1.0" ry="0.7" fill="#43542f" opacity="0.85"/>
<ellipse cx="956.7" cy="505.8" rx="1.7" ry="1.3" fill="#43542f" opacity="0.85"/>
<ellipse cx="939.1" cy="484.4" rx="2.7" ry="2.1" fill="#29381f" opacity="0.85"/>
<ellipse cx="952.3" cy="484.4" rx="2.1" ry="1.6" fill="#62704a" opacity="0.85"/>
<ellipse cx="958.7" cy="518.4" rx="2.1" ry="1.6" fill="#29381f" opacity="0.85"/>
<ellipse cx="998.0" cy="508.2" rx="2.7" ry="2.1" fill="#29381f" opacity="0.85"/>
<ellipse cx="936.5" cy="510.7" rx="2.7" ry="2.1" fill="#485a33" opacity="0.85"/>
<ellipse cx="938.2" cy="490.9" rx="1.8" ry="1.4" fill="#3a4a2c" opacity="0.85"/>
<ellipse cx="1015.2" cy="496.7" rx="1.4" ry="1.1" fill="#43542f" opacity="0.85"/>
<ellipse cx="1003.7" cy="487.0" rx="1.9" ry="1.4" fill="#2d4022" opacity="0.85"/>
<ellipse cx="1002.7" cy="510.1" rx="2.5" ry="1.9" fill="#55653b" opacity="0.85"/>
<ellipse cx="986.5" cy="494.5" rx="1.5" ry="1.2" fill="#62704a" opacity="0.85"/>
<ellipse cx="1001.1" cy="504.6" rx="1.9" ry="1.5" fill="#43542f" opacity="0.85"/>
<ellipse cx="998.5" cy="491.4" rx="1.0" ry="0.8" fill="#2d4022" opacity="0.85"/>
<ellipse cx="976.1" cy="502.7" rx="1.2" ry="0.9" fill="#43542f" opacity="0.85"/>
<ellipse cx="1009.4" cy="519.5" rx="1.4" ry="1.1" fill="#485a33" opacity="0.85"/>
<ellipse cx="953.5" cy="498.0" rx="2.8" ry="2.2" fill="#3a4a2c" opacity="0.85"/>
<ellipse cx="950.5" cy="487.1" rx="1.8" ry="1.4" fill="#334628" opacity="0.85"/>
<ellipse cx="998.1" cy="514.2" rx="2.2" ry="1.7" fill="#485a33" opacity="0.85"/>
<ellipse cx="1000.8" cy="493.2" rx="1.5" ry="1.1" fill="#29381f" opacity="0.85"/>
<ellipse cx="967.1" cy="510.0" rx="1.3" ry="1.0" fill="#334628" opacity="0.85"/>
<ellipse cx="951.6" cy="490.9" rx="1.5" ry="1.1" fill="#334628" opacity="0.85"/>
<ellipse cx="963.2" cy="497.1" rx="2.8" ry="2.2" fill="#6b7654" opacity="0.85"/>
<ellipse cx="979.8" cy="506.7" rx="1.1" ry="0.9" fill="#3a4a2c" opacity="0.85"/>
<ellipse cx="1018.3" cy="485.9" rx="1.8" ry="1.4" fill="#334628" opacity="0.85"/>
<ellipse cx="1005.8" cy="516.7" rx="1.0" ry="0.8" fill="#29381f" opacity="0.85"/>
<ellipse cx="955.5" cy="483.9" rx="2.1" ry="1.6" fill="#334628" opacity="0.85"/>
<ellipse cx="1013.2" cy="496.1" rx="2.6" ry="2.0" fill="#3a4a2c" opacity="0.85"/>
<ellipse cx="986.1" cy="511.4" rx="2.2" ry="1.7" fill="#2d4022" opacity="0.85"/>
<ellipse cx="945.0" cy="504.7" rx="2.1" ry="1.6" fill="#334628" opacity="0.85"/>
<ellipse cx="939.3" cy="494.9" rx="1.0" ry="0.8" fill="#29381f" opacity="0.85"/>
<ellipse cx="939.4" cy="509.8" rx="2.7" ry="2.1" fill="#2d4022" opacity="0.85"/>
<ellipse cx="1004.0" cy="497.5" rx="1.6" ry="1.3" fill="#29381f" opacity="0.85"/>
<ellipse cx="942.7" cy="483.2" rx="1.9" ry="1.4" fill="#3a4a2c" opacity="0.85"/>
<ellipse cx="941.4" cy="485.9" rx="1.7" ry="1.3" fill="#6b7654" opacity="0.85"/>
<ellipse cx="949.0" cy="502.3" rx="2.2" ry="1.7" fill="#43542f" opacity="0.85"/>
<ellipse cx="993.8" cy="497.6" rx="1.5" ry="1.1" fill="#29381f" opacity="0.85"/>
<ellipse cx="970.8" cy="484.0" rx="2.4" ry="1.8" fill="#62704a" opacity="0.85"/>
<ellipse cx="970.5" cy="482.7" rx="2.4" ry="1.8" fill="#62704a" opacity="0.85"/>
<ellipse cx="989.6" cy="496.8" rx="1.7" ry="1.3" fill="#2d4022" opacity="0.85"/>
<ellipse cx="972.1" cy="487.9" rx="1.1" ry="0.9" fill="#485a33" opacity="0.85"/>
<ellipse cx="969.8" cy="515.5" rx="1.8" ry="1.4" fill="#55653b" opacity="0.85"/>
<ellipse cx="947.0" cy="484.0" rx="1.2" ry="0.9" fill="#43542f" opacity="0.85"/>
<ellipse cx="943.6" cy="505.6" rx="1.6" ry="1.3" fill="#6b7654" opacity="0.85"/>
<ellipse cx="950.4" cy="495.2" rx="1.2" ry="0.9" fill="#55653b" opacity="0.85"/>
<ellipse cx="1012.8" cy="486.1" rx="1.9" ry="1.4" fill="#334628" opacity="0.85"/>
<ellipse cx="961.2" cy="513.8" rx="1.0" ry="0.8" fill="#3a4a2c" opacity="0.85"/>
<ellipse cx="962.2" cy="505.1" rx="2.2" ry="1.7" fill="#485a33" opacity="0.85"/>
<ellipse cx="1011.1" cy="505.6" rx="2.5" ry="1.9" fill="#55653b" opacity="0.85"/>
<ellipse cx="989.2" cy="514.6" rx="2.1" ry="1.6" fill="#334628" opacity="0.85"/>
<ellipse cx="1004.9" cy="489.0" rx="1.3" ry="1.0" fill="#43542f" opacity="0.85"/>
<ellipse cx="1013.9" cy="487.9" rx="1.6" ry="1.2" fill="#55653b" opacity="0.85"/>
<ellipse cx="956.7" cy="509.5" rx="2.7" ry="2.0" fill="#2d4022" opacity="0.85"/>
<ellipse cx="1009.4" cy="514.0" rx="2.2" ry="1.7" fill="#62704a" opacity="0.85"/>
<ellipse cx="945.9" cy="504.8" rx="2.0" ry="1.5" fill="#29381f" opacity="0.85"/>
<ellipse cx="989.9" cy="493.7" rx="1.4" ry="1.1" fill="#43542f" opacity="0.85"/>
<ellipse cx="990.8" cy="499.0" rx="1.8" ry="1.4" fill="#2d4022" opacity="0.85"/>
<ellipse cx="936.5" cy="519.5" rx="1.8" ry="1.4" fill="#3a4a2c" opacity="0.85"/>
<ellipse cx="999.4" cy="511.6" rx="1.8" ry="1.4" fill="#55653b" opacity="0.85"/>
<ellipse cx="1003.3" cy="497.2" rx="1.0" ry="0.8" fill="#62704a" opacity="0.85"/>
<ellipse cx="971.9" cy="485.5" rx="1.8" ry="1.4" fill="#6b7654" opacity="0.85"/>
<ellipse cx="990.6" cy="483.5" rx="1.2" ry="0.9" fill="#62704a" opacity="0.85"/>
<ellipse cx="1000.6" cy="501.4" rx="1.0" ry="0.8" fill="#6b7654" opacity="0.85"/>
<ellipse cx="1010.3" cy="506.8" rx="2.4" ry="1.9" fill="#2d4022" opacity="0.85"/>
<ellipse cx="1007.2" cy="519.9" rx="2.3" ry="1.8" fill="#485a33" opacity="0.85"/>
<ellipse cx="952.2" cy="519.3" rx="1.9" ry="1.4" fill="#55653b" opacity="0.85"/>
<ellipse cx="993.0" cy="509.4" rx="1.3" ry="1.0" fill="#62704a" opacity="0.85"/>
<ellipse cx="986.7" cy="491.6" rx="1.5" ry="1.2" fill="#29381f" opacity="0.85"/>
<ellipse cx="1011.1" cy="499.3" rx="1.4" ry="1.1" fill="#3a4a2c" opacity="0.85"/>
<ellipse cx="953.4" cy="492.0" rx="1.9" ry="1.5" fill="#62704a" opacity="0.85"/>
<ellipse cx="967.0" cy="489.6" rx="1.7" ry="1.3" fill="#29381f" opacity="0.85"/>
<ellipse cx="992.5" cy="516.0" rx="1.2" ry="1.0" fill="#29381f" opacity="0.85"/>
<ellipse cx="945.7" cy="502.2" rx="2.2" ry="1.7" fill="#62704a" opacity="0.85"/>
<ellipse cx="1016.2" cy="499.2" rx="1.9" ry="1.5" fill="#485a33" opacity="0.85"/>
<ellipse cx="957.1" cy="502.4" rx="2.6" ry="2.0" fill="#62704a" opacity="0.85"/>
<ellipse cx="958.1" cy="519.6" rx="2.0" ry="1.6" fill="#62704a" opacity="0.85"/>
<ellipse cx="963.6" cy="485.1" rx="1.4" ry="1.0" fill="#2d4022" opacity="0.85"/>
<ellipse cx="960.7" cy="501.6" rx="1.5" ry="1.2" fill="#62704a" opacity="0.85"/>
<ellipse cx="996.9" cy="510.4" rx="1.3" ry="1.0" fill="#29381f" opacity="0.85"/>
<ellipse cx="987.2" cy="498.4" rx="1.9" ry="1.5" fill="#2d4022" opacity="0.85"/>
<ellipse cx="947.1" cy="490.6" rx="2.2" ry="1.7" fill="#2d4022" opacity="0.85"/>
<ellipse cx="940.7" cy="503.6" rx="1.5" ry="1.2" fill="#6b7654" opacity="0.85"/>
<ellipse cx="965.8" cy="490.5" rx="2.0" ry="1.6" fill="#55653b" opacity="0.85"/>
<ellipse cx="953.1" cy="505.7" rx="1.8" ry="1.4" fill="#55653b" opacity="0.85"/>
<ellipse cx="937.4" cy="512.5" rx="2.3" ry="1.8" fill="#3a4a2c" opacity="0.85"/>
<ellipse cx="944.1" cy="506.3" rx="2.6" ry="2.0" fill="#29381f" opacity="0.85"/>
<ellipse cx="969.5" cy="492.0" rx="0.9" ry="0.7" fill="#6b7654" opacity="0.85"/>
<ellipse cx="1010.1" cy="504.6" rx="2.0" ry="1.6" fill="#6b7654" opacity="0.85"/>
<ellipse cx="996.9" cy="491.4" rx="2.7" ry="2.1" fill="#2d4022" opacity="0.85"/>
<ellipse cx="941.3" cy="483.0" rx="1.3" ry="1.0" fill="#55653b" opacity="0.85"/>
<ellipse cx="941.0" cy="511.6" rx="0.9" ry="0.7" fill="#6b7654" opacity="0.85"/>
<ellipse cx="990.6" cy="489.5" rx="1.7" ry="1.3" fill="#6b7654" opacity="0.85"/>
<ellipse cx="986.5" cy="501.3" rx="2.2" ry="1.7" fill="#55653b" opacity="0.85"/>
<ellipse cx="978.3" cy="484.4" rx="2.1" ry="1.6" fill="#3a4a2c" opacity="0.85"/>
<ellipse cx="995.4" cy="482.2" rx="2.6" ry="2.0" fill="#3a4a2c" opacity="0.85"/>
<ellipse cx="942.9" cy="506.9" rx="1.3" ry="1.0" fill="#485a33" opacity="0.85"/>
<ellipse cx="957.8" cy="506.5" rx="1.2" ry="0.9" fill="#29381f" opacity="0.85"/>
<ellipse cx="995.1" cy="492.1" rx="2.0" ry="1.5" fill="#43542f" opacity="0.85"/>
<ellipse cx="993.0" cy="516.9" rx="2.8" ry="2.2" fill="#29381f" opacity="0.85"/>
<ellipse cx="989.4" cy="518.7" rx="1.3" ry="1.0" fill="#6b7654" opacity="0.85"/>
<ellipse cx="937.5" cy="491.9" rx="1.4" ry="1.1" fill="#334628" opacity="0.85"/>
<ellipse cx="1014.4" cy="510.4" rx="1.5" ry="1.2" fill="#43542f" opacity="0.85"/>
<ellipse cx="963.4" cy="491.1" rx="2.7" ry="2.1" fill="#6b7654" opacity="0.85"/>
<ellipse cx="975.1" cy="513.9" rx="2.3" ry="1.7" fill="#2d4022" opacity="0.85"/>
<ellipse cx="972.4" cy="509.5" rx="2.0" ry="1.6" fill="#29381f" opacity="0.85"/>
<ellipse cx="1001.5" cy="496.9" rx="2.1" ry="1.6" fill="#55653b" opacity="0.85"/>
<ellipse cx="948.2" cy="483.0" rx="1.1" ry="0.9" fill="#55653b" opacity="0.85"/>
<ellipse cx="964.8" cy="487.4" rx="1.0" ry="0.7" fill="#2d4022" opacity="0.85"/>
<ellipse cx="947.7" cy="506.5" rx="1.0" ry="0.8" fill="#485a33" opacity="0.85"/>
<ellipse cx="997.2" cy="484.5" rx="2.1" ry="1.6" fill="#62704a" opacity="0.85"/>
<ellipse cx="952.7" cy="518.3" rx="2.0" ry="1.5" fill="#485a33" opacity="0.85"/>
<ellipse cx="1009.0" cy="510.7" rx="2.3" ry="1.8" fill="#43542f" opacity="0.85"/>
<ellipse cx="945.1" cy="489.8" rx="1.1" ry="0.9" fill="#2d4022" opacity="0.85"/>
<ellipse cx="1014.8" cy="516.6" rx="2.4" ry="1.8" fill="#485a33" opacity="0.85"/>
<ellipse cx="1004.5" cy="506.0" rx="1.5" ry="1.1" fill="#485a33" opacity="0.85"/>
<ellipse cx="947.2" cy="512.1" rx="2.2" ry="1.7" fill="#29381f" opacity="0.85"/>
<ellipse cx="962.6" cy="498.1" rx="1.0" ry="0.7" fill="#29381f" opacity="0.85"/>
<ellipse cx="1013.2" cy="483.8" rx="2.4" ry="1.8" fill="#62704a" opacity="0.85"/>
<ellipse cx="999.9" cy="504.9" rx="1.8" ry="1.4" fill="#29381f" opacity="0.85"/>
<ellipse cx="987.4" cy="483.2" rx="1.7" ry="1.3" fill="#43542f" opacity="0.85"/>
<rect x="984.5" y="480.0" width="1.2" height="7.0" fill="#c9cfc5" />
<rect x="1001.0" y="496.0" width="1.3" height="12.0" fill="#7f9a78" opacity="0.6"/>
</g></g>
</svg>
</body></html>
